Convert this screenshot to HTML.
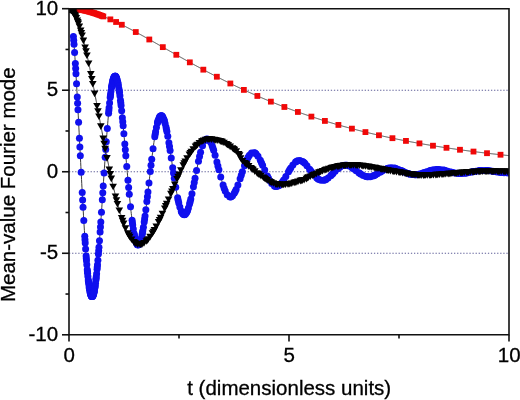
<!DOCTYPE html>
<html><head><meta charset="utf-8"><title>Mean-value Fourier mode</title>
<style>
html,body{margin:0;padding:0;background:#fff;}
body{width:520px;height:400px;overflow:hidden;}
svg{display:block;}
text{font-family:"Liberation Sans",Arial,sans-serif;font-size:20.5px;fill:#000;stroke:#000;stroke-width:0.3px;}
</style></head><body>
<svg width="520" height="400" viewBox="0 0 520 400">
<rect width="520" height="400" fill="#fff"/>
<defs><clipPath id="c"><rect x="69.0" y="8.7" width="440.0" height="326.1"/></clipPath></defs>
<g clip-path="url(#c)">
<line x1="69.0" y1="90.23" x2="509.0" y2="90.23" stroke="#5e5e98" stroke-width="1.1" stroke-dasharray="1.3 1.78"/>
<line x1="69.0" y1="171.75" x2="509.0" y2="171.75" stroke="#5e5e98" stroke-width="1.1" stroke-dasharray="1.3 1.78"/>
<line x1="69.0" y1="253.28" x2="509.0" y2="253.28" stroke="#5e5e98" stroke-width="1.1" stroke-dasharray="1.3 1.78"/>
<polyline points="69,8.7 69.44,8.7 69.88,8.71 70.32,8.71 70.76,8.73 71.2,8.74 71.64,8.76 72.08,8.78 72.52,8.8 72.96,8.83 73.4,8.86 73.84,8.89 74.28,8.93 74.72,8.96 75.16,9.01 75.6,9.05 76.04,9.1 76.48,9.15 76.92,9.2 77.36,9.25 77.8,9.31 78.24,9.37 78.68,9.44 79.12,9.5 79.56,9.57 80,9.64 80.44,9.71 80.88,9.79 81.32,9.87 81.76,9.95 82.2,10.03 82.64,10.12 83.08,10.21 83.52,10.3 83.96,10.39 84.4,10.49 84.84,10.58 85.28,10.68 85.72,10.78 86.16,10.89 86.6,10.99 87.04,11.1 87.48,11.21 87.92,11.33 88.36,11.44 88.8,11.56 89.24,11.68 89.68,11.8 90.12,11.92 90.56,12.05 91,12.17 91.44,12.3 91.88,12.43 92.32,12.56 92.76,12.7 93.2,12.83 93.64,12.97 94.08,13.11 94.52,13.25 94.96,13.4 95.4,13.54 95.84,13.69 96.28,13.84 96.72,13.99 97.16,14.14 97.6,14.29 98.04,14.45 98.48,14.61 98.92,14.76 99.36,14.92 99.8,15.09 100.24,15.25 100.68,15.41 101.12,15.58 101.56,15.75 102,15.91 102.44,16.09 102.88,16.26 103.32,16.43 103.76,16.6 104.2,16.78 104.64,16.96 105.08,17.14 105.52,17.32 105.96,17.5 106.4,17.68 106.84,17.86 107.28,18.05 107.72,18.23 108.16,18.42 108.6,18.61 109.04,18.8 109.48,18.99 109.92,19.18 110.36,19.38 110.8,19.57 111.24,19.77 111.68,19.96 112.12,20.16 112.56,20.36 113,20.56 113.44,20.76 113.88,20.96 114.32,21.17 114.76,21.37 115.2,21.58 115.64,21.78 116.08,21.99 116.52,22.2 116.96,22.4 117.4,22.61 117.84,22.82 118.28,23.04 118.72,23.25 119.16,23.46 119.6,23.68 120.04,23.89 120.48,24.11 120.92,24.32 121.36,24.54 121.8,24.76 122.24,24.98 122.68,25.2 123.12,25.42 123.56,25.64 124,25.86 124.44,26.08 124.88,26.3 125.32,26.53 125.76,26.75 126.2,26.98 126.64,27.2 127.08,27.43 127.52,27.66 127.96,27.89 128.4,28.11 128.84,28.34 129.28,28.57 129.72,28.8 130.16,29.03 130.6,29.27 131.04,29.5 131.48,29.73 131.92,29.96 132.36,30.2 132.8,30.43 133.24,30.66 133.68,30.9 134.12,31.14 134.56,31.37 135,31.61 135.44,31.84 135.88,32.08 136.32,32.32 136.76,32.56 137.2,32.8 137.64,33.04 138.08,33.28 138.52,33.51 138.96,33.76 139.4,34 139.84,34.24 140.28,34.48 140.72,34.72 141.16,34.96 141.6,35.2 142.04,35.45 142.48,35.69 142.92,35.93 143.36,36.18 143.8,36.42 144.24,36.66 144.68,36.91 145.12,37.15 145.56,37.4 146,37.64 146.44,37.89 146.88,38.14 147.32,38.38 147.76,38.63 148.2,38.87 148.64,39.12 149.08,39.37 149.52,39.61 149.96,39.86 150.4,40.11 150.84,40.36 151.28,40.6 151.72,40.85 152.16,41.1 152.6,41.35 153.04,41.6 153.48,41.84 153.92,42.09 154.36,42.34 154.8,42.59 155.24,42.84 155.68,43.09 156.12,43.34 156.56,43.59 157,43.84 157.44,44.09 157.88,44.34 158.32,44.59 158.76,44.84 159.2,45.09 159.64,45.33 160.08,45.58 160.52,45.83 160.96,46.08 161.4,46.33 161.84,46.58 162.28,46.83 162.72,47.08 163.16,47.33 163.6,47.58 164.04,47.83 164.48,48.08 164.92,48.33 165.36,48.58 165.8,48.83 166.24,49.08 166.68,49.33 167.12,49.58 167.56,49.83 168,50.08 168.44,50.33 168.88,50.58 169.32,50.83 169.76,51.08 170.2,51.33 170.64,51.58 171.08,51.83 171.52,52.08 171.96,52.33 172.4,52.58 172.84,52.83 173.28,53.08 173.72,53.33 174.16,53.58 174.6,53.82 175.04,54.07 175.48,54.32 175.92,54.57 176.36,54.82 176.8,55.07 177.24,55.31 177.68,55.56 178.12,55.81 178.56,56.06 179,56.3 179.44,56.55 179.88,56.8 180.32,57.05 180.76,57.29 181.2,57.54 181.64,57.79 182.08,58.03 182.52,58.28 182.96,58.52 183.4,58.77 183.84,59.02 184.28,59.26 184.72,59.51 185.16,59.75 185.6,60 186.04,60.24 186.48,60.49 186.92,60.73 187.36,60.97 187.8,61.22 188.24,61.46 188.68,61.7 189.12,61.95 189.56,62.19 190,62.43 190.44,62.68 190.88,62.92 191.32,63.16 191.76,63.4 192.2,63.64 192.64,63.89 193.08,64.13 193.52,64.37 193.96,64.61 194.4,64.85 194.84,65.09 195.28,65.33 195.72,65.57 196.16,65.81 196.6,66.05 197.04,66.29 197.48,66.53 197.92,66.76 198.36,67 198.8,67.24 199.24,67.48 199.68,67.71 200.12,67.95 200.56,68.19 201,68.42 201.44,68.66 201.88,68.9 202.32,69.13 202.76,69.37 203.2,69.6 203.64,69.84 204.08,70.07 204.52,70.31 204.96,70.54 205.4,70.77 205.84,71.01 206.28,71.24 206.72,71.47 207.16,71.71 207.6,71.94 208.04,72.17 208.48,72.4 208.92,72.63 209.36,72.86 209.8,73.09 210.24,73.32 210.68,73.55 211.12,73.78 211.56,74.01 212,74.24 212.44,74.47 212.88,74.7 213.32,74.93 213.76,75.15 214.2,75.38 214.64,75.61 215.08,75.84 215.52,76.06 215.96,76.29 216.4,76.51 216.84,76.74 217.28,76.96 217.72,77.19 218.16,77.41 218.6,77.64 219.04,77.86 219.48,78.08 219.92,78.31 220.36,78.53 220.8,78.75 221.24,78.97 221.68,79.2 222.12,79.42 222.56,79.64 223,79.86 223.44,80.08 223.88,80.3 224.32,80.52 224.76,80.74 225.2,80.96 225.64,81.17 226.08,81.39 226.52,81.61 226.96,81.83 227.4,82.05 227.84,82.26 228.28,82.48 228.72,82.69 229.16,82.91 229.6,83.12 230.04,83.34 230.48,83.55 230.92,83.77 231.36,83.98 231.8,84.2 232.24,84.41 232.68,84.62 233.12,84.83 233.56,85.05 234,85.26 234.44,85.47 234.88,85.68 235.32,85.89 235.76,86.1 236.2,86.31 236.64,86.52 237.08,86.73 237.52,86.94 237.96,87.14 238.4,87.35 238.84,87.56 239.28,87.77 239.72,87.97 240.16,88.18 240.6,88.39 241.04,88.59 241.48,88.8 241.92,89 242.36,89.21 242.8,89.41 243.24,89.61 243.68,89.82 244.12,90.02 244.56,90.22 245,90.43 245.44,90.63 245.88,90.83 246.32,91.03 246.76,91.23 247.2,91.43 247.64,91.63 248.08,91.83 248.52,92.03 248.96,92.23 249.4,92.43 249.84,92.62 250.28,92.82 250.72,93.02 251.16,93.22 251.6,93.41 252.04,93.61 252.48,93.8 252.92,94 253.36,94.19 253.8,94.39 254.24,94.58 254.68,94.78 255.12,94.97 255.56,95.16 256,95.36 256.44,95.55 256.88,95.74 257.32,95.93 257.76,96.12 258.2,96.31 258.64,96.5 259.08,96.69 259.52,96.88 259.96,97.07 260.4,97.26 260.84,97.45 261.28,97.64 261.72,97.83 262.16,98.01 262.6,98.2 263.04,98.39 263.48,98.57 263.92,98.76 264.36,98.94 264.8,99.13 265.24,99.31 265.68,99.5 266.12,99.68 266.56,99.87 267,100.05 267.44,100.23 267.88,100.41 268.32,100.6 268.76,100.78 269.2,100.96 269.64,101.14 270.08,101.32 270.52,101.5 270.96,101.68 271.4,101.86 271.84,102.04 272.28,102.22 272.72,102.39 273.16,102.57 273.6,102.75 274.04,102.93 274.48,103.1 274.92,103.28 275.36,103.45 275.8,103.63 276.24,103.81 276.68,103.98 277.12,104.15 277.56,104.33 278,104.5 278.44,104.67 278.88,104.85 279.32,105.02 279.76,105.19 280.2,105.36 280.64,105.54 281.08,105.71 281.52,105.88 281.96,106.05 282.4,106.22 282.84,106.39 283.28,106.56 283.72,106.72 284.16,106.89 284.6,107.06 285.04,107.23 285.48,107.4 285.92,107.56 286.36,107.73 286.8,107.89 287.24,108.06 287.68,108.23 288.12,108.39 288.56,108.56 289,108.72 289.44,108.88 289.88,109.05 290.32,109.21 290.76,109.37 291.2,109.54 291.64,109.7 292.08,109.86 292.52,110.02 292.96,110.18 293.4,110.34 293.84,110.5 294.28,110.66 294.72,110.82 295.16,110.98 295.6,111.14 296.04,111.3 296.48,111.46 296.92,111.61 297.36,111.77 297.8,111.93 298.24,112.08 298.68,112.24 299.12,112.4 299.56,112.55 300,112.71 300.44,112.86 300.88,113.02 301.32,113.17 301.76,113.32 302.2,113.48 302.64,113.63 303.08,113.78 303.52,113.94 303.96,114.09 304.4,114.24 304.84,114.39 305.28,114.54 305.72,114.69 306.16,114.84 306.6,114.99 307.04,115.14 307.48,115.29 307.92,115.44 308.36,115.59 308.8,115.74 309.24,115.88 309.68,116.03 310.12,116.18 310.56,116.32 311,116.47 311.44,116.62 311.88,116.76 312.32,116.91 312.76,117.05 313.2,117.2 313.64,117.34 314.08,117.49 314.52,117.63 314.96,117.77 315.4,117.92 315.84,118.06 316.28,118.2 316.72,118.34 317.16,118.48 317.6,118.63 318.04,118.77 318.48,118.91 318.92,119.05 319.36,119.19 319.8,119.33 320.24,119.47 320.68,119.6 321.12,119.74 321.56,119.88 322,120.02 322.44,120.16 322.88,120.29 323.32,120.43 323.76,120.57 324.2,120.7 324.64,120.84 325.08,120.97 325.52,121.11 325.96,121.24 326.4,121.38 326.84,121.51 327.28,121.65 327.72,121.78 328.16,121.91 328.6,122.05 329.04,122.18 329.48,122.31 329.92,122.44 330.36,122.58 330.8,122.71 331.24,122.84 331.68,122.97 332.12,123.1 332.56,123.23 333,123.36 333.44,123.49 333.88,123.62 334.32,123.75 334.76,123.87 335.2,124 335.64,124.13 336.08,124.26 336.52,124.38 336.96,124.51 337.4,124.64 337.84,124.76 338.28,124.89 338.72,125.02 339.16,125.14 339.6,125.27 340.04,125.39 340.48,125.52 340.92,125.64 341.36,125.76 341.8,125.89 342.24,126.01 342.68,126.13 343.12,126.25 343.56,126.38 344,126.5 344.44,126.62 344.88,126.74 345.32,126.86 345.76,126.98 346.2,127.1 346.64,127.22 347.08,127.34 347.52,127.46 347.96,127.58 348.4,127.7 348.84,127.82 349.28,127.94 349.72,128.06 350.16,128.17 350.6,128.29 351.04,128.41 351.48,128.53 351.92,128.64 352.36,128.76 352.8,128.87 353.24,128.99 353.68,129.1 354.12,129.22 354.56,129.33 355,129.45 355.44,129.56 355.88,129.68 356.32,129.79 356.76,129.9 357.2,130.02 357.64,130.13 358.08,130.24 358.52,130.35 358.96,130.47 359.4,130.58 359.84,130.69 360.28,130.8 360.72,130.91 361.16,131.02 361.6,131.13 362.04,131.24 362.48,131.35 362.92,131.46 363.36,131.57 363.8,131.68 364.24,131.79 364.68,131.9 365.12,132 365.56,132.11 366,132.22 366.44,132.33 366.88,132.43 367.32,132.54 367.76,132.65 368.2,132.75 368.64,132.86 369.08,132.96 369.52,133.07 369.96,133.17 370.4,133.28 370.84,133.38 371.28,133.49 371.72,133.59 372.16,133.69 372.6,133.8 373.04,133.9 373.48,134 373.92,134.11 374.36,134.21 374.8,134.31 375.24,134.41 375.68,134.51 376.12,134.61 376.56,134.72 377,134.82 377.44,134.92 377.88,135.02 378.32,135.12 378.76,135.22 379.2,135.32 379.64,135.42 380.08,135.51 380.52,135.61 380.96,135.71 381.4,135.81 381.84,135.91 382.28,136.01 382.72,136.1 383.16,136.2 383.6,136.3 384.04,136.39 384.48,136.49 384.92,136.59 385.36,136.68 385.8,136.78 386.24,136.87 386.68,136.97 387.12,137.06 387.56,137.16 388,137.25 388.44,137.35 388.88,137.44 389.32,137.53 389.76,137.63 390.2,137.72 390.64,137.81 391.08,137.91 391.52,138 391.96,138.09 392.4,138.18 392.84,138.27 393.28,138.37 393.72,138.46 394.16,138.55 394.6,138.64 395.04,138.73 395.48,138.82 395.92,138.91 396.36,139 396.8,139.09 397.24,139.18 397.68,139.27 398.12,139.36 398.56,139.44 399,139.53 399.44,139.62 399.88,139.71 400.32,139.8 400.76,139.88 401.2,139.97 401.64,140.06 402.08,140.14 402.52,140.23 402.96,140.32 403.4,140.4 403.84,140.49 404.28,140.58 404.72,140.66 405.16,140.75 405.6,140.83 406.04,140.92 406.48,141 406.92,141.08 407.36,141.17 407.8,141.25 408.24,141.34 408.68,141.42 409.12,141.5 409.56,141.59 410,141.67 410.44,141.75 410.88,141.83 411.32,141.92 411.76,142 412.2,142.08 412.64,142.16 413.08,142.24 413.52,142.32 413.96,142.4 414.4,142.48 414.84,142.56 415.28,142.64 415.72,142.72 416.16,142.8 416.6,142.88 417.04,142.96 417.48,143.04 417.92,143.12 418.36,143.2 418.8,143.28 419.24,143.36 419.68,143.43 420.12,143.51 420.56,143.59 421,143.67 421.44,143.74 421.88,143.82 422.32,143.9 422.76,143.97 423.2,144.05 423.64,144.13 424.08,144.2 424.52,144.28 424.96,144.35 425.4,144.43 425.84,144.51 426.28,144.58 426.72,144.66 427.16,144.73 427.6,144.8 428.04,144.88 428.48,144.95 428.92,145.03 429.36,145.1 429.8,145.17 430.24,145.25 430.68,145.32 431.12,145.39 431.56,145.46 432,145.54 432.44,145.61 432.88,145.68 433.32,145.75 433.76,145.82 434.2,145.9 434.64,145.97 435.08,146.04 435.52,146.11 435.96,146.18 436.4,146.25 436.84,146.32 437.28,146.39 437.72,146.46 438.16,146.53 438.6,146.6 439.04,146.67 439.48,146.74 439.92,146.81 440.36,146.88 440.8,146.95 441.24,147.01 441.68,147.08 442.12,147.15 442.56,147.22 443,147.29 443.44,147.35 443.88,147.42 444.32,147.49 444.76,147.55 445.2,147.62 445.64,147.69 446.08,147.75 446.52,147.82 446.96,147.89 447.4,147.95 447.84,148.02 448.28,148.08 448.72,148.15 449.16,148.21 449.6,148.28 450.04,148.34 450.48,148.41 450.92,148.47 451.36,148.54 451.8,148.6 452.24,148.67 452.68,148.73 453.12,148.79 453.56,148.86 454,148.92 454.44,148.98 454.88,149.05 455.32,149.11 455.76,149.17 456.2,149.23 456.64,149.3 457.08,149.36 457.52,149.42 457.96,149.48 458.4,149.54 458.84,149.61 459.28,149.67 459.72,149.73 460.16,149.79 460.6,149.85 461.04,149.91 461.48,149.97 461.92,150.03 462.36,150.09 462.8,150.15 463.24,150.21 463.68,150.27 464.12,150.33 464.56,150.39 465,150.45 465.44,150.51 465.88,150.57 466.32,150.62 466.76,150.68 467.2,150.74 467.64,150.8 468.08,150.86 468.52,150.92 468.96,150.97 469.4,151.03 469.84,151.09 470.28,151.15 470.72,151.2 471.16,151.26 471.6,151.32 472.04,151.37 472.48,151.43 472.92,151.49 473.36,151.54 473.8,151.6 474.24,151.65 474.68,151.71 475.12,151.76 475.56,151.82 476,151.88 476.44,151.93 476.88,151.99 477.32,152.04 477.76,152.09 478.2,152.15 478.64,152.2 479.08,152.26 479.52,152.31 479.96,152.37 480.4,152.42 480.84,152.47 481.28,152.53 481.72,152.58 482.16,152.63 482.6,152.69 483.04,152.74 483.48,152.79 483.92,152.84 484.36,152.9 484.8,152.95 485.24,153 485.68,153.05 486.12,153.11 486.56,153.16 487,153.21 487.44,153.26 487.88,153.31 488.32,153.36 488.76,153.41 489.2,153.46 489.64,153.52 490.08,153.57 490.52,153.62 490.96,153.67 491.4,153.72 491.84,153.77 492.28,153.82 492.72,153.87 493.16,153.92 493.6,153.97 494.04,154.02 494.48,154.06 494.92,154.11 495.36,154.16 495.8,154.21 496.24,154.26 496.68,154.31 497.12,154.36 497.56,154.41 498,154.45 498.44,154.5 498.88,154.55 499.32,154.6 499.76,154.65 500.2,154.69 500.64,154.74 501.08,154.79 501.52,154.83 501.96,154.88 502.4,154.93 502.84,154.98 503.28,155.02 503.72,155.07 504.16,155.11 504.6,155.16 505.04,155.21 505.48,155.25 505.92,155.3 506.36,155.34 506.8,155.39 507.24,155.44 507.68,155.48 508.12,155.53 508.56,155.57 509,155.62" fill="none" stroke="#444" stroke-width="1"/>
<g fill="#f00808"><rect x="66.1" y="5.8" width="5.8" height="5.8"/><rect x="67.42" y="5.81" width="5.8" height="5.8"/><rect x="68.74" y="5.86" width="5.8" height="5.8"/><rect x="70.06" y="5.93" width="5.8" height="5.8"/><rect x="71.38" y="6.03" width="5.8" height="5.8"/><rect x="72.7" y="6.15" width="5.8" height="5.8"/><rect x="74.02" y="6.3" width="5.8" height="5.8"/><rect x="75.34" y="6.47" width="5.8" height="5.8"/><rect x="76.66" y="6.67" width="5.8" height="5.8"/><rect x="77.98" y="6.89" width="5.8" height="5.8"/><rect x="79.3" y="7.13" width="5.8" height="5.8"/><rect x="80.62" y="7.4" width="5.8" height="5.8"/><rect x="81.94" y="7.68" width="5.8" height="5.8"/><rect x="83.26" y="7.99" width="5.8" height="5.8"/><rect x="84.58" y="8.31" width="5.8" height="5.8"/><rect x="85.9" y="8.66" width="5.8" height="5.8"/><rect x="87.22" y="9.02" width="5.8" height="5.8"/><rect x="88.54" y="9.4" width="5.8" height="5.8"/><rect x="89.86" y="9.8" width="5.8" height="5.8"/><rect x="91.18" y="10.21" width="5.8" height="5.8"/><rect x="92.5" y="10.64" width="5.8" height="5.8"/><rect x="93.82" y="11.09" width="5.8" height="5.8"/><rect x="95.14" y="11.55" width="5.8" height="5.8"/><rect x="96.46" y="12.02" width="5.8" height="5.8"/><rect x="97.78" y="12.51" width="5.8" height="5.8"/><rect x="99.1" y="13.01" width="5.8" height="5.8"/><rect x="100.42" y="13.53" width="5.8" height="5.8"/><rect x="107.46" y="16.48" width="5.8" height="5.8"/><rect x="113.18" y="19.09" width="5.8" height="5.8"/><rect x="118.9" y="21.86" width="5.8" height="5.8"/><rect x="132.89" y="29.13" width="5.8" height="5.8"/><rect x="146.4" y="36.59" width="5.8" height="5.8"/><rect x="159.91" y="44.23" width="5.8" height="5.8"/><rect x="173.42" y="51.89" width="5.8" height="5.8"/><rect x="186.92" y="59.44" width="5.8" height="5.8"/><rect x="200.43" y="66.77" width="5.8" height="5.8"/><rect x="213.94" y="73.84" width="5.8" height="5.8"/><rect x="227.45" y="80.59" width="5.8" height="5.8"/><rect x="240.96" y="87" width="5.8" height="5.8"/><rect x="254.46" y="93.05" width="5.8" height="5.8"/><rect x="267.97" y="98.74" width="5.8" height="5.8"/><rect x="281.48" y="104.08" width="5.8" height="5.8"/><rect x="294.99" y="109.06" width="5.8" height="5.8"/><rect x="308.5" y="113.7" width="5.8" height="5.8"/><rect x="322" y="118.02" width="5.8" height="5.8"/><rect x="335.51" y="122.03" width="5.8" height="5.8"/><rect x="349.02" y="125.74" width="5.8" height="5.8"/><rect x="362.53" y="129.18" width="5.8" height="5.8"/><rect x="376.04" y="132.36" width="5.8" height="5.8"/><rect x="389.54" y="135.29" width="5.8" height="5.8"/><rect x="403.05" y="138" width="5.8" height="5.8"/><rect x="416.56" y="140.5" width="5.8" height="5.8"/><rect x="430.07" y="142.8" width="5.8" height="5.8"/><rect x="443.58" y="144.91" width="5.8" height="5.8"/><rect x="457.08" y="146.86" width="5.8" height="5.8"/><rect x="470.59" y="148.66" width="5.8" height="5.8"/><rect x="484.1" y="150.31" width="5.8" height="5.8"/><rect x="497.61" y="151.83" width="5.8" height="5.8"/></g>
<polyline points="73.4,36.43 73.62,39.13 73.84,41.94 74.06,44.84 74.28,47.85 74.5,50.95 74.72,54.15 74.94,57.44 75.16,60.81 75.38,64.27 75.6,67.8 75.82,71.42 76.04,75.1 76.26,78.85 76.48,82.67 76.7,86.55 76.92,90.49 77.14,94.48 77.36,98.52 77.58,102.6 77.8,106.73 78.02,110.9 78.24,115.1 78.46,119.32 78.68,123.58 78.9,127.86 79.12,132.15 79.34,136.46 79.56,140.78 79.78,145.1 80,149.43 80.22,153.75 80.44,158.07 80.66,162.38 80.88,166.68 81.1,170.95 81.32,175.21 81.54,179.44 81.76,183.65 81.98,187.82 82.2,191.96 82.42,196.05 82.64,200.11 82.86,204.12 83.08,208.08 83.3,211.98 83.52,215.83 83.74,219.62 83.96,223.35 84.18,227.01 84.4,230.6 84.62,234.12 84.84,237.57 85.06,240.94 85.28,244.23 85.5,247.44 85.72,250.56 85.94,253.6 86.16,256.54 86.38,259.4 86.6,262.16 86.82,264.83 87.04,267.39 87.26,269.86 87.48,272.23 87.7,274.49 87.92,276.65 88.14,278.71 88.36,280.65 88.58,282.49 88.8,284.22 89.02,285.84 89.24,287.35 89.46,288.74 89.68,290.02 89.9,291.19 90.12,292.25 90.34,293.19 90.56,294.01 90.78,294.72 91,295.32 91.22,295.8 91.44,296.17 91.66,296.42 91.88,296.56 92.1,296.58 92.32,296.5 92.54,296.3 92.76,295.98 92.98,295.56 93.2,295.03 93.42,294.39 93.64,293.64 93.86,292.78 94.08,291.82 94.3,290.76 94.52,289.59 94.74,288.33 94.96,286.96 95.18,285.5 95.4,283.94 95.62,282.29 95.84,280.54 96.06,278.71 96.28,276.79 96.5,274.78 96.72,272.7 96.94,270.53 97.16,268.28 97.38,265.96 97.6,263.56 97.82,261.09 98.04,258.56 98.26,255.95 98.48,253.29 98.7,250.57 98.92,247.78 99.14,244.95 99.36,242.06 99.58,239.12 99.8,236.14 100.02,233.11 100.24,230.05 100.46,226.95 100.68,223.81 100.9,220.64 101.12,217.44 101.34,214.22 101.56,210.98 101.78,207.72 102,204.44 102.22,201.15 102.44,197.85 102.66,194.54 102.88,191.23 103.1,187.91 103.32,184.6 103.54,181.3 103.76,178 103.98,174.72 104.2,171.44 104.42,168.19 104.64,164.95 104.86,161.74 105.08,158.55 105.3,155.4 105.52,152.27 105.74,149.17 105.96,146.12 106.18,143.1 106.4,140.12 106.62,137.18 106.84,134.29 107.06,131.45 107.28,128.67 107.5,125.93 107.72,123.25 107.94,120.63 108.16,118.06 108.38,115.56 108.6,113.12 108.82,110.75 109.04,108.44 109.26,106.21 109.48,104.04 109.7,101.95 109.92,99.93 110.14,97.98 110.36,96.11 110.58,94.32 110.8,92.61 111.02,90.98 111.24,89.43 111.46,87.97 111.68,86.58 111.9,85.28 112.12,84.07 112.34,82.94 112.56,81.89 112.78,80.93 113,80.06 113.22,79.28 113.44,78.59 113.66,77.98 113.88,77.46 114.1,77.03 114.32,76.68 114.54,76.43 114.76,76.26 114.98,76.18 115.2,76.18 115.42,76.27 115.64,76.45 115.86,76.71 116.08,77.06 116.3,77.49 116.52,78.01 116.74,78.6 116.96,79.28 117.18,80.04 117.4,80.87 117.62,81.79 117.84,82.78 118.06,83.85 118.28,84.99 118.5,86.2 118.72,87.49 118.94,88.84 119.16,90.26 119.38,91.75 119.6,93.3 119.82,94.92 120.04,96.6 120.26,98.34 120.48,100.13 120.7,101.98 120.92,103.88 121.14,105.84 121.36,107.85 121.58,109.9 121.8,112 122.02,114.14 122.24,116.32 122.46,118.54 122.68,120.8 122.9,123.1 123.12,125.42 123.34,127.78 123.56,130.16 123.78,132.57 124,135 124.22,137.45 124.44,139.93 124.66,142.41 124.88,144.92 125.1,147.43 125.32,149.95 125.54,152.48 125.76,155.01 125.98,157.55 126.2,160.09 126.42,162.62 126.64,165.15 126.86,167.67 127.08,170.18 127.3,172.68 127.52,175.17 127.74,177.64 127.96,180.1 128.18,182.53 128.4,184.95 128.62,187.33 128.84,189.69 129.06,192.03 129.28,194.33 129.5,196.6 129.72,198.84 129.94,201.04 130.16,203.2 130.38,205.33 130.6,207.41 130.82,209.45 131.04,211.45 131.26,213.4 131.48,215.3 131.7,217.15 131.92,218.95 132.14,220.7 132.36,222.4 132.58,224.05 132.8,225.63 133.02,227.16 133.24,228.64 133.46,230.05 133.68,231.4 133.9,232.7 134.12,233.93 134.34,235.1 134.56,236.2 134.78,237.24 135,238.22 135.22,239.13 135.44,239.98 135.66,240.76 135.88,241.48 136.1,242.12 136.32,242.7 136.54,243.22 136.76,243.66 136.98,244.04 137.2,244.35 137.42,244.6 137.64,244.78 137.86,244.89 138.08,244.93 138.3,244.91 138.52,244.82 138.74,244.67 138.96,244.45 139.18,244.16 139.4,243.81 139.62,243.4 139.84,242.93 140.06,242.39 140.28,241.8 140.5,241.14 140.72,240.42 140.94,239.65 141.16,238.81 141.38,237.92 141.6,236.98 141.82,235.98 142.04,234.93 142.26,233.83 142.48,232.67 142.7,231.47 142.92,230.22 143.14,228.92 143.36,227.58 143.58,226.19 143.8,224.76 144.02,223.3 144.24,221.79 144.46,220.24 144.68,218.66 144.9,217.04 145.12,215.39 145.34,213.71 145.56,212.01 145.78,210.27 146,208.51 146.22,206.72 146.44,204.91 146.66,203.08 146.88,201.23 147.1,199.36 147.32,197.48 147.54,195.58 147.76,193.68 147.98,191.76 148.2,189.83 148.42,187.9 148.64,185.96 148.86,184.02 149.08,182.08 149.3,180.14 149.52,178.2 149.74,176.26 149.96,174.33 150.18,172.41 150.4,170.5 150.62,168.6 150.84,166.71 151.06,164.83 151.28,162.97 151.5,161.13 151.72,159.31 151.94,157.51 152.16,155.73 152.38,153.97 152.6,152.24 152.82,150.53 153.04,148.86 153.26,147.21 153.48,145.59 153.7,144 153.92,142.45 154.14,140.93 154.36,139.45 154.58,138.01 154.8,136.6 155.02,135.23 155.24,133.9 155.46,132.61 155.68,131.37 155.9,130.16 156.12,129 156.34,127.89 156.56,126.82 156.78,125.79 157,124.82 157.22,123.89 157.44,123.01 157.66,122.17 157.88,121.39 158.1,120.66 158.32,119.97 158.54,119.34 158.76,118.75 158.98,118.22 159.2,117.74 159.42,117.31 159.64,116.93 159.86,116.6 160.08,116.33 160.3,116.1 160.52,115.93 160.74,115.81 160.96,115.74 161.18,115.72 161.4,115.75 161.62,115.83 161.84,115.96 162.06,116.15 162.28,116.38 162.5,116.66 162.72,116.99 162.94,117.36 163.16,117.79 163.38,118.26 163.6,118.77 163.82,119.33 164.04,119.94 164.26,120.59 164.48,121.28 164.7,122.02 164.92,122.79 165.14,123.61 165.36,124.47 165.58,125.36 165.8,126.29 166.02,127.26 166.24,128.26 166.46,129.3 166.68,130.37 166.9,131.47 167.12,132.61 167.34,133.77 167.56,134.96 167.78,136.18 168,137.42 168.22,138.69 168.44,139.98 168.66,141.3 168.88,142.63 169.1,143.99 169.32,145.36 169.54,146.75 169.76,148.16 169.98,149.58 170.2,151.01 170.42,152.46 170.64,153.91 170.86,155.37 171.08,156.84 171.3,158.32 171.52,159.8 171.74,161.29 171.96,162.77 172.18,164.26 172.4,165.74 172.62,167.23 172.84,168.71 173.06,170.18 173.28,171.65 173.5,173.12 173.72,174.57 173.94,176.01 174.16,177.45 174.38,178.87 174.6,180.27 174.82,181.66 175.04,183.04 175.26,184.4 175.48,185.74 175.7,187.06 175.92,188.36 176.14,189.63 176.36,190.89 176.58,192.12 176.8,193.33 177.02,194.51 177.24,195.67 177.46,196.79 177.68,197.89 177.9,198.96 178.12,200 178.34,201.01 178.56,201.99 178.78,202.93 179,203.84 179.22,204.72 179.44,205.57 179.66,206.38 179.88,207.15 180.1,207.89 180.32,208.59 180.54,209.25 180.76,209.88 180.98,210.47 181.2,211.02 181.42,211.53 181.64,212.01 181.86,212.45 182.08,212.84 182.3,213.2 182.52,213.52 182.74,213.8 182.96,214.04 183.18,214.24 183.4,214.4 183.62,214.52 183.84,214.6 184.06,214.64 184.28,214.65 184.5,214.61 184.72,214.54 184.94,214.43 185.16,214.28 185.38,214.09 185.6,213.86 185.82,213.6 186.04,213.3 186.26,212.97 186.48,212.6 186.7,212.2 186.92,211.76 187.14,211.28 187.36,210.78 187.58,210.24 187.8,209.66 188.02,209.06 188.24,208.43 188.46,207.76 188.68,207.07 188.9,206.35 189.12,205.6 189.34,204.83 189.56,204.03 189.78,203.2 190,202.35 190.22,201.47 190.44,200.58 190.66,199.66 190.88,198.72 191.1,197.76 191.32,196.79 191.54,195.79 191.76,194.78 191.98,193.75 192.2,192.71 192.42,191.66 192.64,190.59 192.86,189.51 193.08,188.42 193.3,187.32 193.52,186.21 193.74,185.1 193.96,183.97 194.18,182.85 194.4,181.71 194.62,180.58 194.84,179.44 195.06,178.3 195.28,177.17 195.5,176.03 195.72,174.89 195.94,173.76 196.16,172.63 196.38,171.51 196.6,170.39 196.82,169.28 197.04,168.18 197.26,167.08 197.48,166 197.7,164.93 197.92,163.86 198.14,162.81 198.36,161.78 198.58,160.76 198.8,159.75 199.02,158.76 199.24,157.79 199.46,156.83 199.68,155.89 199.9,154.97 200.12,154.07 200.34,153.2 200.56,152.34 200.78,151.5 201,150.69 201.22,149.9 201.44,149.14 201.66,148.39 201.88,147.68 202.1,146.99 202.32,146.32 202.54,145.68 202.76,145.07 202.98,144.49 203.2,143.93 203.42,143.4 203.64,142.9 203.86,142.43 204.08,141.98 204.3,141.57 204.52,141.18 204.74,140.83 204.96,140.5 205.18,140.21 205.4,139.94 205.62,139.71 205.84,139.5 206.06,139.33 206.28,139.18 206.5,139.07 206.72,138.98 206.94,138.93 207.16,138.91 207.38,138.91 207.6,138.95 207.82,139.01 208.04,139.1 208.26,139.23 208.48,139.38 208.7,139.56 208.92,139.77 209.14,140 209.36,140.27 209.58,140.56 209.8,140.87 210.02,141.22 210.24,141.59 210.46,141.98 210.68,142.4 210.9,142.85 211.12,143.32 211.34,143.81 211.56,144.32 211.78,144.86 212,145.42 212.22,146 212.44,146.6 212.66,147.21 212.88,147.85 213.1,148.51 213.32,149.18 213.54,149.87 213.76,150.58 213.98,151.3 214.2,152.04 214.42,152.79 214.64,153.56 214.86,154.34 215.08,155.13 215.3,155.93 215.52,156.74 215.74,157.56 215.96,158.39 216.18,159.22 216.4,160.07 216.62,160.92 216.84,161.77 217.06,162.63 217.28,163.5 217.5,164.36 217.72,165.23 217.94,166.1 218.16,166.98 218.38,167.85 218.6,168.72 218.82,169.59 219.04,170.45 219.26,171.32 219.48,172.17 219.7,173.03 219.92,173.88 220.14,174.72 220.36,175.56 220.58,176.38 220.8,177.2 221.02,178.01 221.24,178.81 221.46,179.61 221.68,180.38 221.9,181.15 222.12,181.91 222.34,182.65 222.56,183.38 222.78,184.09 223,184.79 223.22,185.47 223.44,186.14 223.66,186.79 223.88,187.43 224.1,188.05 224.32,188.64 224.54,189.23 224.76,189.79 224.98,190.33 225.2,190.85 225.42,191.36 225.64,191.84 225.86,192.3 226.08,192.75 226.3,193.17 226.52,193.57 226.74,193.94 226.96,194.3 227.18,194.63 227.4,194.94 227.62,195.23 227.84,195.5 228.06,195.74 228.28,195.96 228.5,196.16 228.72,196.33 228.94,196.48 229.16,196.61 229.38,196.71 229.6,196.79 229.82,196.85 230.04,196.89 230.26,196.9 230.48,196.89 230.7,196.86 230.92,196.8 231.14,196.72 231.36,196.62 231.58,196.5 231.8,196.35 232.02,196.19 232.24,196 232.46,195.79 232.68,195.57 232.9,195.32 233.12,195.05 233.34,194.76 233.56,194.45 233.78,194.13 234,193.78 234.22,193.42 234.44,193.04 234.66,192.64 234.88,192.22 235.1,191.79 235.32,191.34 235.54,190.88 235.76,190.4 235.98,189.91 236.2,189.4 236.42,188.88 236.64,188.35 236.86,187.8 237.08,187.25 237.3,186.68 237.52,186.1 237.74,185.51 237.96,184.91 238.18,184.31 238.4,183.69 238.62,183.07 238.84,182.44 239.06,181.8 239.28,181.16 239.5,180.51 239.72,179.86 239.94,179.21 240.16,178.55 240.38,177.88 240.6,177.22 240.82,176.55 241.04,175.89 241.26,175.22 241.48,174.55 241.7,173.89 241.92,173.22 242.14,172.56 242.36,171.9 242.58,171.24 242.8,170.59 243.02,169.94 243.24,169.3 243.46,168.66 243.68,168.03 243.9,167.4 244.12,166.78 244.34,166.17 244.56,165.57 244.78,164.97 245,164.39 245.22,163.81 245.44,163.25 245.66,162.69 245.88,162.15 246.1,161.62 246.32,161.1 246.54,160.59 246.76,160.09 246.98,159.61 247.2,159.14 247.42,158.69 247.64,158.25 247.86,157.82 248.08,157.41 248.3,157.01 248.52,156.63 248.74,156.27 248.96,155.92 249.18,155.58 249.4,155.26 249.62,154.96 249.84,154.68 250.06,154.41 250.28,154.16 250.5,153.93 250.72,153.71 250.94,153.51 251.16,153.33 251.38,153.17 251.6,153.02 251.82,152.9 252.04,152.79 252.26,152.69 252.48,152.62 252.7,152.56 252.92,152.52 253.14,152.5 253.36,152.5 253.58,152.51 253.8,152.54 254.02,152.59 254.24,152.65 254.46,152.73 254.68,152.83 254.9,152.95 255.12,153.08 255.34,153.22 255.56,153.39 255.78,153.57 256,153.76 256.22,153.97 256.44,154.2 256.66,154.44 256.88,154.69 257.1,154.96 257.32,155.24 257.54,155.54 257.76,155.85 257.98,156.17 258.2,156.5 258.42,156.85 258.64,157.21 258.86,157.58 259.08,157.96 259.3,158.35 259.52,158.75 259.74,159.16 259.96,159.58 260.18,160.01 260.4,160.44 260.62,160.89 260.84,161.34 261.06,161.8 261.28,162.27 261.5,162.74 261.72,163.22 261.94,163.7 262.16,164.19 262.38,164.68 262.6,165.18 262.82,165.68 263.04,166.18 263.26,166.69 263.48,167.2 263.7,167.71 263.92,168.22 264.14,168.73 264.36,169.24 264.58,169.75 264.8,170.26 265.02,170.77 265.24,171.27 265.46,171.78 265.68,172.28 265.9,172.78 266.12,173.27 266.34,173.77 266.56,174.25 266.78,174.74 267,175.21 267.22,175.69 267.44,176.15 267.66,176.61 267.88,177.06 268.1,177.51 268.32,177.95 268.54,178.38 268.76,178.8 268.98,179.22 269.2,179.62 269.42,180.02 269.64,180.4 269.86,180.78 270.08,181.14 270.3,181.5 270.52,181.85 270.74,182.18 270.96,182.5 271.18,182.82 271.4,183.12 271.62,183.41 271.84,183.68 272.06,183.95 272.28,184.2 272.5,184.44 272.72,184.66 272.94,184.88 273.16,185.08 273.38,185.27 273.6,185.44 273.82,185.6 274.04,185.75 274.26,185.89 274.48,186.01 274.7,186.12 274.92,186.21 275.14,186.29 275.36,186.36 275.58,186.41 275.8,186.45 276.02,186.48 276.24,186.49 276.46,186.49 276.68,186.48 276.9,186.45 277.12,186.41 277.34,186.36 277.56,186.29 277.78,186.21 278,186.12 278.22,186.02 278.44,185.9 278.66,185.77 278.88,185.63 279.1,185.48 279.32,185.31 279.54,185.14 279.76,184.95 279.98,184.75 280.2,184.55 280.42,184.33 280.64,184.1 280.86,183.86 281.08,183.61 281.3,183.35 281.52,183.08 281.74,182.81 281.96,182.52 282.18,182.23 282.4,181.93 282.62,181.62 282.84,181.3 283.06,180.98 283.28,180.65 283.5,180.31 283.72,179.97 283.94,179.62 284.16,179.27 284.38,178.91 284.6,178.55 284.82,178.18 285.04,177.81 285.26,177.43 285.48,177.05 285.7,176.67 285.92,176.29 286.14,175.9 286.36,175.52 286.58,175.13 286.8,174.74 287.02,174.35 287.24,173.96 287.46,173.56 287.68,173.17 287.9,172.78 288.12,172.39 288.34,172.01 288.56,171.62 288.78,171.24 289,170.86 289.22,170.48 289.44,170.1 289.66,169.73 289.88,169.36 290.1,169 290.32,168.64 290.54,168.28 290.76,167.93 290.98,167.58 291.2,167.25 291.42,166.91 291.64,166.58 291.86,166.26 292.08,165.95 292.3,165.64 292.52,165.34 292.74,165.04 292.96,164.76 293.18,164.48 293.4,164.21 293.62,163.95 293.84,163.69 294.06,163.45 294.28,163.21 294.5,162.98 294.72,162.77 294.94,162.56 295.16,162.36 295.38,162.17 295.6,161.99 295.82,161.82 296.04,161.65 296.26,161.5 296.48,161.36 296.7,161.23 296.92,161.11 297.14,161 297.36,160.9 297.58,160.81 297.8,160.73 298.02,160.66 298.24,160.6 298.46,160.55 298.68,160.51 298.9,160.49 299.12,160.47 299.34,160.46 299.56,160.47 299.78,160.48 300,160.5 300.22,160.54 300.44,160.58 300.66,160.63 300.88,160.7 301.1,160.77 301.32,160.85 301.54,160.94 301.76,161.04 301.98,161.15 302.2,161.27 302.42,161.4 302.64,161.54 302.86,161.68 303.08,161.84 303.3,162 303.52,162.17 303.74,162.35 303.96,162.53 304.18,162.72 304.4,162.92 304.62,163.13 304.84,163.34 305.06,163.56 305.28,163.79 305.5,164.02 305.72,164.26 305.94,164.51 306.16,164.75 306.38,165.01 306.6,165.27 306.82,165.53 307.04,165.8 307.26,166.07 307.48,166.35 307.7,166.62 307.92,166.91 308.14,167.19 308.36,167.48 308.58,167.77 308.8,168.06 309.02,168.36 309.24,168.65 309.46,168.95 309.68,169.25 309.9,169.55 310.12,169.85 310.34,170.15 310.56,170.44 310.78,170.74 311,171.04 311.22,171.34 311.44,171.64 311.66,171.93 311.88,172.22 312.1,172.52 312.32,172.81 312.54,173.09 312.76,173.38 312.98,173.66 313.2,173.94 313.42,174.21 313.64,174.48 313.86,174.75 314.08,175.01 314.3,175.27 314.52,175.53 314.74,175.78 314.96,176.02 315.18,176.26 315.4,176.49 315.62,176.72 315.84,176.95 316.06,177.16 316.28,177.38 316.5,177.58 316.72,177.78 316.94,177.97 317.16,178.16 317.38,178.34 317.6,178.51 317.82,178.67 318.04,178.83 318.26,178.98 318.48,179.13 318.7,179.26 318.92,179.39 319.14,179.51 319.36,179.63 319.58,179.73 319.8,179.83 320.02,179.92 320.24,180 320.46,180.08 320.68,180.14 320.9,180.2 321.12,180.25 321.34,180.3 321.56,180.33 321.78,180.36 322,180.38 322.22,180.39 322.44,180.39 322.66,180.39 322.88,180.38 323.1,180.36 323.32,180.33 323.54,180.29 323.76,180.25 323.98,180.2 324.2,180.14 324.42,180.08 324.64,180 324.86,179.92 325.08,179.84 325.3,179.74 325.52,179.64 325.74,179.54 325.96,179.43 326.18,179.31 326.4,179.18 326.62,179.05 326.84,178.91 327.06,178.77 327.28,178.62 327.5,178.46 327.72,178.3 327.94,178.14 328.16,177.97 328.38,177.79 328.6,177.62 328.82,177.43 329.04,177.24 329.26,177.05 329.48,176.86 329.7,176.66 329.92,176.45 330.14,176.25 330.36,176.04 330.58,175.83 330.8,175.61 331.02,175.4 331.24,175.18 331.46,174.96 331.68,174.73 331.9,174.51 332.12,174.28 332.34,174.06 332.56,173.83 332.78,173.6 333,173.37 333.22,173.14 333.44,172.91 333.66,172.69 333.88,172.46 334.1,172.23 334.32,172 334.54,171.77 334.76,171.55 334.98,171.32 335.2,171.1 335.42,170.88 335.64,170.66 335.86,170.44 336.08,170.23 336.3,170.02 336.52,169.81 336.74,169.6 336.96,169.4 337.18,169.2 337.4,169 337.62,168.81 337.84,168.62 338.06,168.43 338.28,168.25 338.5,168.07 338.72,167.89 338.94,167.72 339.16,167.56 339.38,167.4 339.6,167.24 339.82,167.09 340.04,166.95 340.26,166.81 340.48,166.67 340.7,166.54 340.92,166.41 341.14,166.29 341.36,166.18 341.58,166.07 341.8,165.97 342.02,165.87 342.24,165.78 342.46,165.7 342.68,165.62 342.9,165.54 343.12,165.48 343.34,165.41 343.56,165.36 343.78,165.31 344,165.27 344.22,165.23 344.44,165.2 344.66,165.17 344.88,165.15 345.1,165.14 345.32,165.13 345.54,165.13 345.76,165.14 345.98,165.15 346.2,165.17 346.42,165.19 346.64,165.22 346.86,165.25 347.08,165.29 347.3,165.34 347.52,165.39 347.74,165.45 347.96,165.51 348.18,165.58 348.4,165.65 348.62,165.73 348.84,165.81 349.06,165.9 349.28,165.99 349.5,166.09 349.72,166.19 349.94,166.3 350.16,166.41 350.38,166.52 350.6,166.64 350.82,166.77 351.04,166.89 351.26,167.03 351.48,167.16 351.7,167.3 351.92,167.44 352.14,167.58 352.36,167.73 352.58,167.88 352.8,168.04 353.02,168.19 353.24,168.35 353.46,168.51 353.68,168.67 353.9,168.84 354.12,169 354.34,169.17 354.56,169.34 354.78,169.51 355,169.69 355.22,169.86 355.44,170.03 355.66,170.21 355.88,170.38 356.1,170.56 356.32,170.73 356.54,170.91 356.76,171.08 356.98,171.26 357.2,171.43 357.42,171.61 357.64,171.78 357.86,171.95 358.08,172.12 358.3,172.29 358.52,172.46 358.74,172.63 358.96,172.8 359.18,172.96 359.4,173.12 359.62,173.28 359.84,173.44 360.06,173.59 360.28,173.75 360.5,173.9 360.72,174.05 360.94,174.19 361.16,174.33 361.38,174.47 361.6,174.61 361.82,174.74 362.04,174.87 362.26,174.99 362.48,175.12 362.7,175.23 362.92,175.35 363.14,175.46 363.36,175.57 363.58,175.67 363.8,175.77 364.02,175.86 364.24,175.95 364.46,176.04 364.68,176.12 364.9,176.2 365.12,176.27 365.34,176.34 365.56,176.4 365.78,176.46 366,176.52 366.22,176.57 366.44,176.61 366.66,176.65 366.88,176.69 367.1,176.72 367.32,176.75 367.54,176.77 367.76,176.79 367.98,176.8 368.2,176.81 368.42,176.82 368.64,176.82 368.86,176.81 369.08,176.8 369.3,176.79 369.52,176.77 369.74,176.74 369.96,176.72 370.18,176.68 370.4,176.65 370.62,176.61 370.84,176.56 371.06,176.51 371.28,176.46 371.5,176.4 371.72,176.34 371.94,176.28 372.16,176.21 372.38,176.14 372.6,176.06 372.82,175.98 373.04,175.9 373.26,175.82 373.48,175.73 373.7,175.63 373.92,175.54 374.14,175.44 374.36,175.34 374.58,175.23 374.8,175.13 375.02,175.02 375.24,174.91 375.46,174.79 375.68,174.68 375.9,174.56 376.12,174.44 376.34,174.32 376.56,174.2 376.78,174.07 377,173.94 377.22,173.82 377.44,173.69 377.66,173.56 377.88,173.43 378.1,173.29 378.32,173.16 378.54,173.03 378.76,172.89 378.98,172.76 379.2,172.63 379.42,172.49 379.64,172.36 379.86,172.22 380.08,172.09 380.3,171.96 380.52,171.82 380.74,171.69 380.96,171.56 381.18,171.43 381.4,171.3 381.62,171.17 381.84,171.04 382.06,170.91 382.28,170.79 382.5,170.67 382.72,170.54 382.94,170.42 383.16,170.3 383.38,170.19 383.6,170.07 383.82,169.96 384.04,169.85 384.26,169.74 384.48,169.64 384.7,169.53 384.92,169.43 385.14,169.34 385.36,169.24 385.58,169.15 385.8,169.06 386.02,168.97 386.24,168.89 386.46,168.81 386.68,168.73 386.9,168.65 387.12,168.58 387.34,168.51 387.56,168.45 387.78,168.39 388,168.33 388.22,168.27 388.44,168.22 388.66,168.17 388.88,168.13 389.1,168.09 389.32,168.05 389.54,168.02 389.76,167.99 389.98,167.96 390.2,167.94 390.42,167.92 390.64,167.9 390.86,167.89 391.08,167.88 391.3,167.87 391.52,167.87 391.74,167.87 391.96,167.88 392.18,167.89 392.4,167.9 392.62,167.91 392.84,167.93 393.06,167.95 393.28,167.98 393.5,168.01 393.72,168.04 393.94,168.08 394.16,168.11 394.38,168.15 394.6,168.2 394.82,168.25 395.04,168.3 395.26,168.35 395.48,168.41 395.7,168.46 395.92,168.53 396.14,168.59 396.36,168.66 396.58,168.73 396.8,168.8 397.02,168.87 397.24,168.95 397.46,169.02 397.68,169.1 397.9,169.19 398.12,169.27 398.34,169.36 398.56,169.44 398.78,169.53 399,169.62 399.22,169.72 399.44,169.81 399.66,169.9 399.88,170 400.1,170.1 400.32,170.2 400.54,170.29 400.76,170.39 400.98,170.5 401.2,170.6 401.42,170.7 401.64,170.8 401.86,170.9 402.08,171.01 402.3,171.11 402.52,171.21 402.74,171.31 402.96,171.42 403.18,171.52 403.4,171.62 403.62,171.72 403.84,171.82 404.06,171.93 404.28,172.03 404.5,172.12 404.72,172.22 404.94,172.32 405.16,172.42 405.38,172.51 405.6,172.61 405.82,172.7 406.04,172.79 406.26,172.88 406.48,172.97 406.7,173.06 406.92,173.14 407.14,173.23 407.36,173.31 407.58,173.39 407.8,173.47 408.02,173.54 408.24,173.62 408.46,173.69 408.68,173.76 408.9,173.83 409.12,173.9 409.34,173.96 409.56,174.02 409.78,174.08 410,174.14 410.22,174.19 410.44,174.24 410.66,174.29 410.88,174.34 411.1,174.38 411.32,174.42 411.54,174.46 411.76,174.5 411.98,174.53 412.2,174.56 412.42,174.59 412.64,174.61 412.86,174.64 413.08,174.66 413.3,174.67 413.52,174.69 413.74,174.7 413.96,174.71 414.18,174.72 414.4,174.72 414.62,174.72 414.84,174.72 415.06,174.71 415.28,174.71 415.5,174.7 415.72,174.68 415.94,174.67 416.16,174.65 416.38,174.63 416.6,174.61 416.82,174.58 417.04,174.56 417.26,174.53 417.48,174.49 417.7,174.46 417.92,174.42 418.14,174.38 418.36,174.34 418.58,174.3 418.8,174.25 419.02,174.2 419.24,174.16 419.46,174.1 419.68,174.05 419.9,174 420.12,173.94 420.34,173.88 420.56,173.82 420.78,173.76 421,173.69 421.22,173.63 421.44,173.56 421.66,173.5 421.88,173.43 422.1,173.36 422.32,173.29 422.54,173.22 422.76,173.14 422.98,173.07 423.2,172.99 423.42,172.92 423.64,172.84 423.86,172.77 424.08,172.69 424.3,172.61 424.52,172.53 424.74,172.46 424.96,172.38 425.18,172.3 425.4,172.22 425.62,172.14 425.84,172.06 426.06,171.98 426.28,171.9 426.5,171.83 426.72,171.75 426.94,171.67 427.16,171.59 427.38,171.52 427.6,171.44 427.82,171.37 428.04,171.29 428.26,171.22 428.48,171.15 428.7,171.07 428.92,171 429.14,170.93 429.36,170.86 429.58,170.8 429.8,170.73 430.02,170.66 430.24,170.6 430.46,170.54 430.68,170.48 430.9,170.42 431.12,170.36 431.34,170.3 431.56,170.25 431.78,170.19 432,170.14 432.22,170.09 432.44,170.04 432.66,170 432.88,169.95 433.1,169.91 433.32,169.87 433.54,169.83 433.76,169.79 433.98,169.76 434.2,169.73 434.42,169.7 434.64,169.67 434.86,169.64 435.08,169.61 435.3,169.59 435.52,169.57 435.74,169.55 435.96,169.53 436.18,169.52 436.4,169.51 436.62,169.5 436.84,169.49 437.06,169.48 437.28,169.48 437.5,169.48 437.72,169.48 437.94,169.48 438.16,169.48 438.38,169.49 438.6,169.5 438.82,169.51 439.04,169.52 439.26,169.53 439.48,169.55 439.7,169.57 439.92,169.59 440.14,169.61 440.36,169.63 440.58,169.66 440.8,169.68 441.02,169.71 441.24,169.74 441.46,169.78 441.68,169.81 441.9,169.84 442.12,169.88 442.34,169.92 442.56,169.96 442.78,170 443,170.04 443.22,170.09 443.44,170.13 443.66,170.18 443.88,170.23 444.1,170.27 444.32,170.32 444.54,170.38 444.76,170.43 444.98,170.48 445.2,170.53 445.42,170.59 445.64,170.64 445.86,170.7 446.08,170.76 446.3,170.81 446.52,170.87 446.74,170.93 446.96,170.99 447.18,171.05 447.4,171.11 447.62,171.17 447.84,171.23 448.06,171.29 448.28,171.35 448.5,171.41 448.72,171.47 448.94,171.53 449.16,171.59 449.38,171.65 449.6,171.71 449.82,171.77 450.04,171.83 450.26,171.89 450.48,171.94 450.7,172 450.92,172.06 451.14,172.12 451.36,172.17 451.58,172.23 451.8,172.28 452.02,172.34 452.24,172.39 452.46,172.44 452.68,172.49 452.9,172.54 453.12,172.59 453.34,172.64 453.56,172.69 453.78,172.74 454,172.78 454.22,172.83 454.44,172.87 454.66,172.91 454.88,172.95 455.1,172.99 455.32,173.03 455.54,173.07 455.76,173.1 455.98,173.13 456.2,173.17 456.42,173.2 456.64,173.23 456.86,173.25 457.08,173.28 457.3,173.31 457.52,173.33 457.74,173.35 457.96,173.37 458.18,173.39 458.4,173.41 458.62,173.42 458.84,173.44 459.06,173.45 459.28,173.46 459.5,173.47 459.72,173.48 459.94,173.48 460.16,173.49 460.38,173.49 460.6,173.49 460.82,173.49 461.04,173.49 461.26,173.48 461.48,173.48 461.7,173.47 461.92,173.47 462.14,173.46 462.36,173.44 462.58,173.43 462.8,173.42 463.02,173.4 463.24,173.39 463.46,173.37 463.68,173.35 463.9,173.33 464.12,173.3 464.34,173.28 464.56,173.26 464.78,173.23 465,173.2 465.22,173.17 465.44,173.14 465.66,173.11 465.88,173.08 466.1,173.05 466.32,173.01 466.54,172.98 466.76,172.94 466.98,172.91 467.2,172.87 467.42,172.83 467.64,172.79 467.86,172.75 468.08,172.71 468.3,172.67 468.52,172.63 468.74,172.59 468.96,172.54 469.18,172.5 469.4,172.45 469.62,172.41 469.84,172.37 470.06,172.32 470.28,172.28 470.5,172.23 470.72,172.18 470.94,172.14 471.16,172.09 471.38,172.05 471.6,172 471.82,171.95 472.04,171.91 472.26,171.86 472.48,171.81 472.7,171.77 472.92,171.72 473.14,171.68 473.36,171.63 473.58,171.59 473.8,171.54 474.02,171.5 474.24,171.46 474.46,171.41 474.68,171.37 474.9,171.33 475.12,171.29 475.34,171.25 475.56,171.21 475.78,171.17 476,171.13 476.22,171.09 476.44,171.06 476.66,171.02 476.88,170.98 477.1,170.95 477.32,170.92 477.54,170.88 477.76,170.85 477.98,170.82 478.2,170.79 478.42,170.76 478.64,170.74 478.86,170.71 479.08,170.68 479.3,170.66 479.52,170.64 479.74,170.61 479.96,170.59 480.18,170.57 480.4,170.55 480.62,170.54 480.84,170.52 481.06,170.5 481.28,170.49 481.5,170.48 481.72,170.47 481.94,170.46 482.16,170.45 482.38,170.44 482.6,170.43 482.82,170.43 483.04,170.42 483.26,170.42 483.48,170.42 483.7,170.42 483.92,170.42 484.14,170.42 484.36,170.42 484.58,170.43 484.8,170.43 485.02,170.44 485.24,170.45 485.46,170.46 485.68,170.47 485.9,170.48 486.12,170.49 486.34,170.5 486.56,170.52 486.78,170.53 487,170.55 487.22,170.57 487.44,170.58 487.66,170.6 487.88,170.62 488.1,170.64 488.32,170.67 488.54,170.69 488.76,170.71 488.98,170.74 489.2,170.76 489.42,170.79 489.64,170.82 489.86,170.84 490.08,170.87 490.3,170.9 490.52,170.93 490.74,170.96 490.96,170.99 491.18,171.02 491.4,171.05 491.62,171.09 491.84,171.12 492.06,171.15 492.28,171.19 492.5,171.22 492.72,171.25 492.94,171.29 493.16,171.32 493.38,171.36 493.6,171.39 493.82,171.43 494.04,171.46 494.26,171.5 494.48,171.53 494.7,171.57 494.92,171.6 495.14,171.64 495.36,171.67 495.58,171.71 495.8,171.75 496.02,171.78 496.24,171.81 496.46,171.85 496.68,171.88 496.9,171.92 497.12,171.95 497.34,171.98 497.56,172.02 497.78,172.05 498,172.08 498.22,172.11 498.44,172.14 498.66,172.17 498.88,172.2 499.1,172.23 499.32,172.26 499.54,172.29 499.76,172.32 499.98,172.34 500.2,172.37 500.42,172.4 500.64,172.42 500.86,172.44 501.08,172.47 501.3,172.49 501.52,172.51 501.74,172.53 501.96,172.55 502.18,172.57 502.4,172.59 502.62,172.61 502.84,172.63 503.06,172.64 503.28,172.66 503.5,172.67 503.72,172.68 503.94,172.7 504.16,172.71 504.38,172.72 504.6,172.73 504.82,172.74 505.04,172.74 505.26,172.75 505.48,172.76 505.7,172.76 505.92,172.76 506.14,172.77 506.36,172.77 506.58,172.77 506.8,172.77 507.02,172.77 507.24,172.77 507.46,172.77 507.68,172.76 507.9,172.76 508.12,172.75 508.34,172.75 508.56,172.74 508.78,172.73 509,172.72" fill="none" stroke="#3a3a3a" stroke-width="1"/>
<g fill="#1010ee"><circle cx="73.4" cy="36.43" r="3.5"/><circle cx="73.71" cy="40.26" r="3.5"/><circle cx="74.02" cy="44.3" r="3.5"/><circle cx="74.6" cy="52.4" r="3.5"/><circle cx="75.34" cy="63.57" r="3.5"/><circle cx="75.65" cy="68.55" r="3.5"/><circle cx="75.96" cy="73.68" r="3.5"/><circle cx="76.54" cy="83.66" r="3.5"/><circle cx="77.27" cy="96.9" r="3.5"/><circle cx="77.62" cy="103.29" r="3.5"/><circle cx="77.96" cy="109.78" r="3.5"/><circle cx="78.61" cy="122.17" r="3.5"/><circle cx="79.43" cy="138.14" r="3.5"/><circle cx="79.87" cy="146.95" r="3.5"/><circle cx="80.32" cy="155.75" r="3.5"/><circle cx="81.16" cy="172.16" r="3.5"/><circle cx="82.23" cy="192.44" r="3.5"/><circle cx="82.63" cy="199.95" r="3.5"/><circle cx="83.04" cy="207.31" r="3.5"/><circle cx="83.8" cy="220.6" r="3.5"/><circle cx="84.76" cy="236.33" r="3.5"/><circle cx="84.98" cy="239.69" r="3.5"/><circle cx="85.2" cy="242.97" r="3.5"/><circle cx="85.6" cy="248.91" r="3.5"/><circle cx="86.12" cy="256.01" r="3.5"/><circle cx="86.3" cy="258.39" r="3.5"/><circle cx="86.48" cy="260.7" r="3.5"/><circle cx="86.82" cy="264.87" r="3.5"/><circle cx="87.26" cy="269.81" r="3.5"/><circle cx="87.42" cy="271.59" r="3.5"/><circle cx="87.58" cy="273.31" r="3.5"/><circle cx="87.89" cy="276.38" r="3.5"/><circle cx="88.28" cy="279.97" r="3.5"/><circle cx="88.44" cy="281.3" r="3.5"/><circle cx="88.59" cy="282.57" r="3.5"/><circle cx="88.88" cy="284.81" r="3.5"/><circle cx="89.24" cy="287.37" r="3.5"/><circle cx="89.39" cy="288.32" r="3.5"/><circle cx="89.54" cy="289.22" r="3.5"/><circle cx="89.82" cy="290.77" r="3.5"/><circle cx="90.17" cy="292.47" r="3.5"/><circle cx="90.32" cy="293.09" r="3.5"/><circle cx="90.46" cy="293.66" r="3.5"/><circle cx="90.73" cy="294.59" r="3.5"/><circle cx="91.08" cy="295.51" r="3.5"/><circle cx="91.22" cy="295.81" r="3.5"/><circle cx="91.37" cy="296.06" r="3.5"/><circle cx="91.64" cy="296.4" r="3.5"/><circle cx="91.99" cy="296.59" r="3.5"/><circle cx="92.13" cy="296.58" r="3.5"/><circle cx="92.28" cy="296.52" r="3.5"/><circle cx="92.56" cy="296.28" r="3.5"/><circle cx="92.9" cy="295.72" r="3.5"/><circle cx="93.06" cy="295.39" r="3.5"/><circle cx="93.21" cy="295.01" r="3.5"/><circle cx="93.49" cy="294.16" r="3.5"/><circle cx="93.85" cy="292.83" r="3.5"/><circle cx="94.01" cy="292.15" r="3.5"/><circle cx="94.17" cy="291.42" r="3.5"/><circle cx="94.46" cy="289.91" r="3.5"/><circle cx="94.84" cy="287.73" r="3.5"/><circle cx="95.01" cy="286.65" r="3.5"/><circle cx="95.18" cy="285.52" r="3.5"/><circle cx="95.49" cy="283.24" r="3.5"/><circle cx="95.9" cy="280.08" r="3.5"/><circle cx="96.08" cy="278.51" r="3.5"/><circle cx="96.27" cy="276.87" r="3.5"/><circle cx="96.62" cy="273.64" r="3.5"/><circle cx="97.06" cy="269.26" r="3.5"/><circle cx="97.28" cy="267.01" r="3.5"/><circle cx="97.5" cy="264.69" r="3.5"/><circle cx="97.9" cy="260.16" r="3.5"/><circle cx="98.41" cy="254.1" r="3.5"/><circle cx="98.69" cy="250.75" r="3.5"/><circle cx="98.96" cy="247.32" r="3.5"/><circle cx="99.47" cy="240.66" r="3.5"/><circle cx="100.11" cy="231.88" r="3.5"/><circle cx="100.46" cy="226.92" r="3.5"/><circle cx="100.81" cy="221.88" r="3.5"/><circle cx="101.48" cy="212.23" r="3.5"/><circle cx="102.31" cy="199.75" r="3.5"/><circle cx="102.77" cy="192.86" r="3.5"/><circle cx="103.23" cy="185.96" r="3.5"/><circle cx="104.09" cy="173.09" r="3.5"/><circle cx="105.18" cy="157.14" r="3.5"/><circle cx="105.73" cy="149.38" r="3.5"/><circle cx="106.27" cy="141.83" r="3.5"/><circle cx="107.3" cy="128.42" r="3.5"/><circle cx="108.6" cy="113.13" r="3.5"/><circle cx="108.85" cy="110.4" r="3.5"/><circle cx="109.11" cy="107.76" r="3.5"/><circle cx="109.58" cy="103.07" r="3.5"/><circle cx="110.18" cy="97.61" r="3.5"/><circle cx="110.4" cy="95.79" r="3.5"/><circle cx="110.62" cy="94.04" r="3.5"/><circle cx="111.02" cy="90.98" r="3.5"/><circle cx="111.53" cy="87.49" r="3.5"/><circle cx="111.73" cy="86.26" r="3.5"/><circle cx="111.93" cy="85.1" r="3.5"/><circle cx="112.31" cy="83.11" r="3.5"/><circle cx="112.78" cy="80.94" r="3.5"/><circle cx="112.97" cy="80.18" r="3.5"/><circle cx="113.16" cy="79.48" r="3.5"/><circle cx="113.52" cy="78.36" r="3.5"/><circle cx="113.97" cy="77.26" r="3.5"/><circle cx="114.16" cy="76.92" r="3.5"/><circle cx="114.35" cy="76.64" r="3.5"/><circle cx="114.71" cy="76.29" r="3.5"/><circle cx="115.16" cy="76.17" r="3.5"/><circle cx="115.35" cy="76.23" r="3.5"/><circle cx="115.54" cy="76.36" r="3.5"/><circle cx="115.9" cy="76.78" r="3.5"/><circle cx="116.36" cy="77.63" r="3.5"/><circle cx="116.56" cy="78.11" r="3.5"/><circle cx="116.76" cy="78.67" r="3.5"/><circle cx="117.14" cy="79.89" r="3.5"/><circle cx="117.62" cy="81.78" r="3.5"/><circle cx="117.83" cy="82.75" r="3.5"/><circle cx="118.05" cy="83.8" r="3.5"/><circle cx="118.46" cy="85.96" r="3.5"/><circle cx="118.97" cy="89.05" r="3.5"/><circle cx="119.22" cy="90.64" r="3.5"/><circle cx="119.46" cy="92.33" r="3.5"/><circle cx="119.92" cy="95.69" r="3.5"/><circle cx="120.5" cy="100.33" r="3.5"/><circle cx="120.8" cy="102.87" r="3.5"/><circle cx="121.1" cy="105.5" r="3.5"/><circle cx="121.66" cy="110.69" r="3.5"/><circle cx="122.37" cy="117.68" r="3.5"/><circle cx="122.76" cy="121.67" r="3.5"/><circle cx="123.15" cy="125.77" r="3.5"/><circle cx="123.88" cy="133.7" r="3.5"/><circle cx="124.81" cy="144.08" r="3.5"/><circle cx="125.31" cy="149.86" r="3.5"/><circle cx="125.82" cy="155.69" r="3.5"/><circle cx="126.77" cy="166.6" r="3.5"/><circle cx="127.97" cy="180.19" r="3.5"/><circle cx="128.63" cy="187.4" r="3.5"/><circle cx="129.28" cy="194.37" r="3.5"/><circle cx="130.52" cy="206.63" r="3.5"/><circle cx="132.08" cy="220.22" r="3.5"/><circle cx="132.39" cy="222.65" r="3.5"/><circle cx="132.71" cy="224.97" r="3.5"/><circle cx="133.3" cy="229" r="3.5"/><circle cx="134.04" cy="233.5" r="3.5"/><circle cx="134.31" cy="234.94" r="3.5"/><circle cx="134.58" cy="236.28" r="3.5"/><circle cx="135.08" cy="238.55" r="3.5"/><circle cx="135.71" cy="240.94" r="3.5"/><circle cx="135.96" cy="241.73" r="3.5"/><circle cx="136.21" cy="242.43" r="3.5"/><circle cx="136.68" cy="243.51" r="3.5"/><circle cx="137.28" cy="244.45" r="3.5"/><circle cx="137.52" cy="244.69" r="3.5"/><circle cx="137.77" cy="244.85" r="3.5"/><circle cx="138.24" cy="244.92" r="3.5"/><circle cx="138.82" cy="244.59" r="3.5"/><circle cx="139.08" cy="244.3" r="3.5"/><circle cx="139.34" cy="243.92" r="3.5"/><circle cx="139.82" cy="242.98" r="3.5"/><circle cx="140.43" cy="241.37" r="3.5"/><circle cx="140.7" cy="240.47" r="3.5"/><circle cx="140.98" cy="239.49" r="3.5"/><circle cx="141.51" cy="237.39" r="3.5"/><circle cx="142.17" cy="234.29" r="3.5"/><circle cx="142.49" cy="232.6" r="3.5"/><circle cx="142.82" cy="230.8" r="3.5"/><circle cx="143.43" cy="227.14" r="3.5"/><circle cx="144.2" cy="222.04" r="3.5"/><circle cx="144.63" cy="219.05" r="3.5"/><circle cx="145.05" cy="215.93" r="3.5"/><circle cx="145.84" cy="209.77" r="3.5"/><circle cx="146.85" cy="201.5" r="3.5"/><circle cx="147.4" cy="196.81" r="3.5"/><circle cx="147.95" cy="192.03" r="3.5"/><circle cx="148.98" cy="182.96" r="3.5"/><circle cx="150.29" cy="171.48" r="3.5"/><circle cx="151" cy="165.32" r="3.5"/><circle cx="151.72" cy="159.33" r="3.5"/><circle cx="153.06" cy="148.72" r="3.5"/><circle cx="154.76" cy="136.87" r="3.5"/><circle cx="155.19" cy="134.23" r="3.5"/><circle cx="155.61" cy="131.74" r="3.5"/><circle cx="156.42" cy="127.52" r="3.5"/><circle cx="157.43" cy="123.04" r="3.5"/><circle cx="157.77" cy="121.76" r="3.5"/><circle cx="158.12" cy="120.6" r="3.5"/><circle cx="158.76" cy="118.76" r="3.5"/><circle cx="159.57" cy="117.04" r="3.5"/><circle cx="159.9" cy="116.55" r="3.5"/><circle cx="160.22" cy="116.18" r="3.5"/><circle cx="160.83" cy="115.77" r="3.5"/><circle cx="161.59" cy="115.82" r="3.5"/><circle cx="161.92" cy="116.03" r="3.5"/><circle cx="162.26" cy="116.35" r="3.5"/><circle cx="162.88" cy="117.25" r="3.5"/><circle cx="163.67" cy="118.94" r="3.5"/><circle cx="164.04" cy="119.93" r="3.5"/><circle cx="164.4" cy="121.04" r="3.5"/><circle cx="165.1" cy="123.45" r="3.5"/><circle cx="165.97" cy="127.05" r="3.5"/><circle cx="166.44" cy="129.21" r="3.5"/><circle cx="166.91" cy="131.51" r="3.5"/><circle cx="167.78" cy="136.2" r="3.5"/><circle cx="168.89" cy="142.72" r="3.5"/><circle cx="169.5" cy="146.51" r="3.5"/><circle cx="170.11" cy="150.42" r="3.5"/><circle cx="171.25" cy="157.98" r="3.5"/><circle cx="172.69" cy="167.71" r="3.5"/><circle cx="173.48" cy="173" r="3.5"/><circle cx="174.27" cy="178.17" r="3.5"/><circle cx="175.75" cy="187.37" r="3.5"/><circle cx="177.63" cy="197.64" r="3.5"/><circle cx="178.2" cy="200.37" r="3.5"/><circle cx="178.77" cy="202.89" r="3.5"/><circle cx="179.84" cy="207.01" r="3.5"/><circle cx="181.2" cy="211.01" r="3.5"/><circle cx="181.63" cy="211.99" r="3.5"/><circle cx="182.06" cy="212.81" r="3.5"/><circle cx="182.88" cy="213.95" r="3.5"/><circle cx="183.91" cy="214.62" r="3.5"/><circle cx="184.34" cy="214.64" r="3.5"/><circle cx="184.76" cy="214.52" r="3.5"/><circle cx="185.56" cy="213.91" r="3.5"/><circle cx="186.57" cy="212.44" r="3.5"/><circle cx="187.05" cy="211.49" r="3.5"/><circle cx="187.52" cy="210.38" r="3.5"/><circle cx="188.42" cy="207.89" r="3.5"/><circle cx="189.55" cy="204.05" r="3.5"/><circle cx="190.17" cy="201.66" r="3.5"/><circle cx="190.8" cy="199.08" r="3.5"/><circle cx="191.96" cy="193.85" r="3.5"/><circle cx="193.43" cy="186.64" r="3.5"/><circle cx="194.24" cy="182.53" r="3.5"/><circle cx="195.05" cy="178.37" r="3.5"/><circle cx="196.56" cy="170.59" r="3.5"/><circle cx="198.48" cy="161.23" r="3.5"/><circle cx="199.53" cy="156.54" r="3.5"/><circle cx="200.58" cy="152.27" r="3.5"/><circle cx="202.54" cy="145.67" r="3.5"/><circle cx="205.04" cy="140.4" r="3.5"/><circle cx="205.59" cy="139.74" r="3.5"/><circle cx="206.15" cy="139.27" r="3.5"/><circle cx="207.19" cy="138.9" r="3.5"/><circle cx="208.51" cy="139.4" r="3.5"/><circle cx="209.09" cy="139.95" r="3.5"/><circle cx="209.68" cy="140.69" r="3.5"/><circle cx="210.77" cy="142.59" r="3.5"/><circle cx="212.16" cy="145.84" r="3.5"/><circle cx="212.92" cy="147.98" r="3.5"/><circle cx="213.68" cy="150.33" r="3.5"/><circle cx="215.11" cy="155.23" r="3.5"/><circle cx="216.91" cy="162.06" r="3.5"/><circle cx="217.9" cy="165.95" r="3.5"/><circle cx="218.89" cy="169.86" r="3.5"/><circle cx="220.74" cy="176.99" r="3.5"/><circle cx="223.09" cy="185.07" r="3.5"/><circle cx="224.15" cy="188.19" r="3.5"/><circle cx="225.22" cy="190.89" r="3.5"/><circle cx="227.21" cy="194.67" r="3.5"/><circle cx="229.73" cy="196.83" r="3.5"/><circle cx="230.45" cy="196.89" r="3.5"/><circle cx="231.18" cy="196.71" r="3.5"/><circle cx="232.53" cy="195.72" r="3.5"/><circle cx="234.25" cy="193.37" r="3.5"/><circle cx="235.19" cy="191.61" r="3.5"/><circle cx="236.13" cy="189.57" r="3.5"/><circle cx="237.89" cy="185.1" r="3.5"/><circle cx="240.12" cy="178.66" r="3.5"/><circle cx="241.25" cy="175.25" r="3.5"/><circle cx="242.38" cy="171.85" r="3.5"/><circle cx="244.49" cy="165.76" r="3.5"/><circle cx="247.16" cy="159.22" r="3.5"/><circle cx="248.29" cy="157.03" r="3.5"/><circle cx="249.42" cy="155.24" r="3.5"/><circle cx="251.53" cy="153.07" r="3.5"/><circle cx="254.2" cy="152.64" r="3.5"/><circle cx="255.18" cy="153.12" r="3.5"/><circle cx="256.17" cy="153.92" r="3.5"/><circle cx="258" cy="156.2" r="3.5"/><circle cx="260.33" cy="160.31" r="3.5"/><circle cx="261.46" cy="162.66" r="3.5"/><circle cx="262.59" cy="165.15" r="3.5"/><circle cx="264.7" cy="170.02" r="3.5"/><circle cx="267.37" cy="176.01" r="3.5"/><circle cx="268.5" cy="178.3" r="3.5"/><circle cx="269.63" cy="180.38" r="3.5"/><circle cx="271.74" cy="183.56" r="3.5"/><circle cx="274.41" cy="185.97" r="3.5"/><circle cx="275.54" cy="186.4" r="3.5"/><circle cx="276.67" cy="186.48" r="3.5"/><circle cx="278.78" cy="185.7" r="3.5"/><circle cx="281.45" cy="183.16" r="3.5"/><circle cx="282.58" cy="181.67" r="3.5"/><circle cx="283.71" cy="179.99" r="3.5"/><circle cx="285.82" cy="176.47" r="3.5"/><circle cx="288.49" cy="171.74" r="3.5"/><circle cx="289.62" cy="169.8" r="3.5"/><circle cx="290.75" cy="167.95" r="3.5"/><circle cx="292.86" cy="164.89" r="3.5"/><circle cx="295.53" cy="162.04" r="3.5"/><circle cx="296.66" cy="161.25" r="3.5"/><circle cx="297.79" cy="160.73" r="3.5"/><circle cx="299.9" cy="160.49" r="3.5"/><circle cx="302.57" cy="161.5" r="3.5"/><circle cx="303.7" cy="162.31" r="3.5"/><circle cx="304.83" cy="163.33" r="3.5"/><circle cx="306.94" cy="165.68" r="3.5"/><circle cx="309.61" cy="169.16" r="3.5"/><circle cx="310.74" cy="170.69" r="3.5"/><circle cx="311.87" cy="172.21" r="3.5"/><circle cx="313.98" cy="174.89" r="3.5"/><circle cx="316.65" cy="177.72" r="3.5"/><circle cx="317.78" cy="178.65" r="3.5"/><circle cx="318.91" cy="179.38" r="3.5"/><circle cx="321.02" cy="180.23" r="3.5"/><circle cx="323.69" cy="180.26" r="3.5"/><circle cx="324.82" cy="179.94" r="3.5"/><circle cx="325.95" cy="179.43" r="3.5"/><circle cx="328.06" cy="178.05" r="3.5"/><circle cx="330.73" cy="175.68" r="3.5"/><circle cx="331.86" cy="174.55" r="3.5"/><circle cx="332.99" cy="173.39" r="3.5"/><circle cx="335.1" cy="171.2" r="3.5"/><circle cx="337.77" cy="168.67" r="3.5"/><circle cx="338.9" cy="167.75" r="3.5"/><circle cx="340.03" cy="166.95" r="3.5"/><circle cx="342.14" cy="165.82" r="3.5"/><circle cx="344.81" cy="165.16" r="3.5"/><circle cx="345.94" cy="165.15" r="3.5"/><circle cx="347.07" cy="165.29" r="3.5"/><circle cx="349.18" cy="165.95" r="3.5"/><circle cx="351.85" cy="167.4" r="3.5"/><circle cx="352.98" cy="168.16" r="3.5"/><circle cx="354.11" cy="168.99" r="3.5"/><circle cx="356.22" cy="170.65" r="3.5"/><circle cx="358.89" cy="172.75" r="3.5"/><circle cx="360.02" cy="173.57" r="3.5"/><circle cx="361.15" cy="174.32" r="3.5"/><circle cx="363.26" cy="175.52" r="3.5"/><circle cx="365.93" cy="176.5" r="3.5"/><circle cx="367.06" cy="176.72" r="3.5"/><circle cx="368.19" cy="176.81" r="3.5"/><circle cx="370.3" cy="176.67" r="3.5"/><circle cx="372.97" cy="175.93" r="3.5"/><circle cx="374.1" cy="175.46" r="3.5"/><circle cx="375.23" cy="174.91" r="3.5"/><circle cx="377.34" cy="173.75" r="3.5"/><circle cx="380.01" cy="172.13" r="3.5"/><circle cx="381.14" cy="171.45" r="3.5"/><circle cx="382.27" cy="170.8" r="3.5"/><circle cx="384.38" cy="169.69" r="3.5"/><circle cx="387.05" cy="168.6" r="3.5"/><circle cx="388.18" cy="168.28" r="3.5"/><circle cx="389.31" cy="168.05" r="3.5"/><circle cx="391.42" cy="167.87" r="3.5"/><circle cx="394.09" cy="168.1" r="3.5"/><circle cx="395.22" cy="168.34" r="3.5"/><circle cx="396.35" cy="168.65" r="3.5"/><circle cx="398.46" cy="169.4" r="3.5"/><circle cx="401.13" cy="170.57" r="3.5"/><circle cx="402.26" cy="171.09" r="3.5"/><circle cx="403.39" cy="171.62" r="3.5"/><circle cx="405.5" cy="172.56" r="3.5"/><circle cx="408.17" cy="173.6" r="3.5"/><circle cx="409.3" cy="173.95" r="3.5"/><circle cx="410.43" cy="174.24" r="3.5"/><circle cx="412.54" cy="174.6" r="3.5"/><circle cx="415.21" cy="174.71" r="3.5"/><circle cx="416.34" cy="174.63" r="3.5"/><circle cx="417.47" cy="174.5" r="3.5"/><circle cx="419.58" cy="174.08" r="3.5"/><circle cx="422.25" cy="173.31" r="3.5"/><circle cx="423.38" cy="172.93" r="3.5"/><circle cx="424.51" cy="172.54" r="3.5"/><circle cx="426.62" cy="171.78" r="3.5"/><circle cx="429.29" cy="170.88" r="3.5"/><circle cx="430.42" cy="170.55" r="3.5"/><circle cx="431.55" cy="170.25" r="3.5"/><circle cx="433.66" cy="169.81" r="3.5"/><circle cx="436.33" cy="169.51" r="3.5"/><circle cx="437.46" cy="169.48" r="3.5"/><circle cx="438.59" cy="169.5" r="3.5"/><circle cx="440.7" cy="169.67" r="3.5"/><circle cx="443.37" cy="170.12" r="3.5"/><circle cx="444.5" cy="170.37" r="3.5"/><circle cx="445.63" cy="170.64" r="3.5"/><circle cx="447.74" cy="171.2" r="3.5"/><circle cx="450.41" cy="171.93" r="3.5"/><circle cx="451.54" cy="172.22" r="3.5"/><circle cx="452.67" cy="172.49" r="3.5"/><circle cx="454.78" cy="172.93" r="3.5"/><circle cx="457.45" cy="173.32" r="3.5"/><circle cx="458.58" cy="173.42" r="3.5"/><circle cx="459.71" cy="173.48" r="3.5"/><circle cx="461.82" cy="173.47" r="3.5"/><circle cx="464.49" cy="173.26" r="3.5"/><circle cx="465.62" cy="173.12" r="3.5"/><circle cx="466.75" cy="172.95" r="3.5"/><circle cx="468.86" cy="172.56" r="3.5"/><circle cx="471.53" cy="172.01" r="3.5"/><circle cx="472.66" cy="171.78" r="3.5"/><circle cx="473.79" cy="171.55" r="3.5"/><circle cx="475.9" cy="171.15" r="3.5"/><circle cx="478.57" cy="170.74" r="3.5"/><circle cx="479.7" cy="170.62" r="3.5"/><circle cx="480.83" cy="170.52" r="3.5"/><circle cx="482.94" cy="170.42" r="3.5"/><circle cx="485.61" cy="170.46" r="3.5"/><circle cx="486.74" cy="170.53" r="3.5"/><circle cx="487.87" cy="170.62" r="3.5"/><circle cx="489.98" cy="170.86" r="3.5"/><circle cx="492.65" cy="171.24" r="3.5"/><circle cx="493.78" cy="171.42" r="3.5"/><circle cx="494.91" cy="171.6" r="3.5"/><circle cx="497.02" cy="171.93" r="3.5"/><circle cx="499.69" cy="172.31" r="3.5"/><circle cx="500.82" cy="172.44" r="3.5"/><circle cx="501.95" cy="172.55" r="3.5"/><circle cx="504.06" cy="172.7" r="3.5"/><circle cx="506.73" cy="172.77" r="3.5"/><circle cx="507.86" cy="172.76" r="3.5"/><circle cx="508.99" cy="172.72" r="3.5"/></g>
<polyline points="69,8.7 69.22,8.71 69.44,8.73 69.66,8.77 69.88,8.83 70.1,8.91 70.32,9 70.54,9.1 70.76,9.23 70.98,9.37 71.2,9.52 71.42,9.69 71.64,9.88 71.86,10.08 72.08,10.3 72.3,10.53 72.52,10.78 72.74,11.04 72.96,11.32 73.18,11.61 73.4,11.92 73.62,12.25 73.84,12.58 74.06,12.94 74.28,13.3 74.5,13.68 74.72,14.08 74.94,14.49 75.16,14.91 75.38,15.35 75.6,15.8 75.82,16.26 76.04,16.74 76.26,17.23 76.48,17.74 76.7,18.26 76.92,18.79 77.14,19.33 77.36,19.89 77.58,20.46 77.8,21.04 78.02,21.64 78.24,22.24 78.46,22.86 78.68,23.5 78.9,24.14 79.12,24.79 79.34,25.46 79.56,26.14 79.78,26.83 80,27.53 80.22,28.24 80.44,28.97 80.66,29.7 80.88,30.45 81.1,31.2 81.32,31.97 81.54,32.74 81.76,33.53 81.98,34.33 82.2,35.14 82.42,35.95 82.64,36.78 82.86,37.62 83.08,38.46 83.3,39.32 83.52,40.18 83.74,41.05 83.96,41.94 84.18,42.83 84.4,43.73 84.62,44.64 84.84,45.55 85.06,46.48 85.28,47.41 85.5,48.35 85.72,49.3 85.94,50.26 86.16,51.22 86.38,52.19 86.6,53.17 86.82,54.16 87.04,55.15 87.26,56.15 87.48,57.16 87.7,58.17 87.92,59.19 88.14,60.22 88.36,61.25 88.58,62.29 88.8,63.33 89.02,64.38 89.24,65.44 89.46,66.5 89.68,67.56 89.9,68.63 90.12,69.71 90.34,70.79 90.56,71.88 90.78,72.97 91,74.07 91.22,75.17 91.44,76.27 91.66,77.38 91.88,78.49 92.1,79.61 92.32,80.73 92.54,81.85 92.76,82.98 92.98,84.11 93.2,85.24 93.42,86.38 93.64,87.52 93.86,88.66 94.08,89.81 94.3,90.96 94.52,92.11 94.74,93.26 94.96,94.41 95.18,95.57 95.4,96.73 95.62,97.89 95.84,99.05 96.06,100.22 96.28,101.38 96.5,102.55 96.72,103.72 96.94,104.88 97.16,106.05 97.38,107.22 97.6,108.4 97.82,109.57 98.04,110.74 98.26,111.91 98.48,113.08 98.7,114.26 98.92,115.43 99.14,116.6 99.36,117.77 99.58,118.94 99.8,120.11 100.02,121.28 100.24,122.45 100.46,123.62 100.68,124.79 100.9,125.95 101.12,127.12 101.34,128.28 101.56,129.44 101.78,130.6 102,131.76 102.22,132.92 102.44,134.08 102.66,135.23 102.88,136.38 103.1,137.53 103.32,138.67 103.54,139.82 103.76,140.96 103.98,142.1 104.2,143.23 104.42,144.37 104.64,145.5 104.86,146.62 105.08,147.75 105.3,148.87 105.52,149.99 105.74,151.1 105.96,152.21 106.18,153.32 106.4,154.42 106.62,155.52 106.84,156.61 107.06,157.7 107.28,158.79 107.5,159.87 107.72,160.95 107.94,162.03 108.16,163.1 108.38,164.16 108.6,165.22 108.82,166.28 109.04,167.33 109.26,168.37 109.48,169.42 109.7,170.45 109.92,171.48 110.14,172.51 110.36,173.53 110.58,174.54 110.8,175.55 111.02,176.56 111.24,177.55 111.46,178.55 111.68,179.53 111.9,180.52 112.12,181.49 112.34,182.46 112.56,183.42 112.78,184.38 113,185.33 113.22,186.28 113.44,187.21 113.66,188.15 113.88,189.07 114.1,189.99 114.32,190.9 114.54,191.81 114.76,192.71 114.98,193.6 115.2,194.49 115.42,195.37 115.64,196.24 115.86,197.1 116.08,197.96 116.3,198.81 116.52,199.66 116.74,200.49 116.96,201.32 117.18,202.15 117.4,202.96 117.62,203.77 117.84,204.57 118.06,205.36 118.28,206.15 118.5,206.93 118.72,207.7 118.94,208.46 119.16,209.22 119.38,209.96 119.6,210.7 119.82,211.44 120.04,212.16 120.26,212.88 120.48,213.59 120.7,214.29 120.92,214.98 121.14,215.66 121.36,216.34 121.58,217.01 121.8,217.67 122.02,218.32 122.24,218.97 122.46,219.61 122.68,220.23 122.9,220.85 123.12,221.47 123.34,222.07 123.56,222.67 123.78,223.25 124,223.83 124.22,224.4 124.44,224.97 124.66,225.52 124.88,226.07 125.1,226.61 125.32,227.13 125.54,227.66 125.76,228.17 125.98,228.67 126.2,229.17 126.42,229.66 126.64,230.14 126.86,230.61 127.08,231.07 127.3,231.52 127.52,231.97 127.74,232.4 127.96,232.83 128.18,233.25 128.4,233.67 128.62,234.07 128.84,234.46 129.06,234.85 129.28,235.23 129.5,235.6 129.72,235.96 129.94,236.31 130.16,236.66 130.38,236.99 130.6,237.32 130.82,237.64 131.04,237.95 131.26,238.25 131.48,238.55 131.7,238.83 131.92,239.11 132.14,239.38 132.36,239.64 132.58,239.89 132.8,240.14 133.02,240.37 133.24,240.6 133.46,240.82 133.68,241.03 133.9,241.24 134.12,241.43 134.34,241.62 134.56,241.8 134.78,241.97 135,242.13 135.22,242.29 135.44,242.44 135.66,242.57 135.88,242.71 136.1,242.83 136.32,242.94 136.54,243.05 136.76,243.15 136.98,243.24 137.2,243.33 137.42,243.4 137.64,243.47 137.86,243.53 138.08,243.58 138.3,243.63 138.52,243.67 138.74,243.7 138.96,243.72 139.18,243.74 139.4,243.74 139.62,243.74 139.84,243.74 140.06,243.72 140.28,243.7 140.5,243.67 140.72,243.64 140.94,243.59 141.16,243.54 141.38,243.49 141.6,243.42 141.82,243.35 142.04,243.27 142.26,243.19 142.48,243.1 142.7,243 142.92,242.89 143.14,242.78 143.36,242.66 143.58,242.53 143.8,242.4 144.02,242.26 144.24,242.12 144.46,241.96 144.68,241.81 144.9,241.64 145.12,241.47 145.34,241.29 145.56,241.11 145.78,240.92 146,240.72 146.22,240.52 146.44,240.32 146.66,240.1 146.88,239.88 147.1,239.66 147.32,239.42 147.54,239.19 147.76,238.95 147.98,238.7 148.2,238.44 148.42,238.18 148.64,237.92 148.86,237.65 149.08,237.37 149.3,237.09 149.52,236.8 149.74,236.51 149.96,236.22 150.18,235.91 150.4,235.61 150.62,235.3 150.84,234.98 151.06,234.66 151.28,234.33 151.5,234 151.72,233.67 151.94,233.32 152.16,232.98 152.38,232.63 152.6,232.28 152.82,231.92 153.04,231.56 153.26,231.19 153.48,230.82 153.7,230.44 153.92,230.06 154.14,229.68 154.36,229.29 154.58,228.9 154.8,228.51 155.02,228.11 155.24,227.7 155.46,227.3 155.68,226.89 155.9,226.47 156.12,226.06 156.34,225.64 156.56,225.21 156.78,224.79 157,224.36 157.22,223.92 157.44,223.49 157.66,223.05 157.88,222.6 158.1,222.16 158.32,221.71 158.54,221.26 158.76,220.8 158.98,220.35 159.2,219.89 159.42,219.42 159.64,218.96 159.86,218.49 160.08,218.02 160.3,217.55 160.52,217.08 160.74,216.6 160.96,216.12 161.18,215.64 161.4,215.16 161.62,214.67 161.84,214.19 162.06,213.7 162.28,213.21 162.5,212.72 162.72,212.22 162.94,211.73 163.16,211.23 163.38,210.73 163.6,210.23 163.82,209.73 164.04,209.23 164.26,208.73 164.48,208.22 164.7,207.71 164.92,207.21 165.14,206.7 165.36,206.19 165.58,205.68 165.8,205.17 166.02,204.66 166.24,204.14 166.46,203.63 166.68,203.11 166.9,202.6 167.12,202.08 167.34,201.57 167.56,201.05 167.78,200.54 168,200.02 168.22,199.5 168.44,198.99 168.66,198.47 168.88,197.95 169.1,197.43 169.32,196.91 169.54,196.4 169.76,195.88 169.98,195.36 170.2,194.82 170.42,194.27 170.64,193.73 170.86,193.18 171.08,192.64 171.3,192.09 171.52,191.55 171.74,191 171.96,190.46 172.18,189.92 172.4,189.38 172.62,188.84 172.84,188.3 173.06,187.76 173.28,187.22 173.5,186.68 173.72,186.15 173.94,185.61 174.16,185.08 174.38,184.55 174.6,184.01 174.82,183.48 175.04,182.95 175.26,182.43 175.48,181.9 175.7,181.38 175.92,180.85 176.14,180.33 176.36,179.81 176.58,179.29 176.8,178.77 177.02,178.26 177.24,177.74 177.46,177.23 177.68,176.72 177.9,176.21 178.12,175.71 178.34,175.2 178.56,174.7 178.78,174.2 179,173.7 179.22,173.2 179.44,172.71 179.66,172.22 179.88,171.73 180.1,171.24 180.32,170.75 180.54,170.27 180.76,169.79 180.98,169.31 181.2,168.83 181.42,168.36 181.64,167.89 181.86,167.42 182.08,166.95 182.3,166.49 182.52,166.03 182.74,165.57 182.96,165.11 183.18,164.66 183.4,164.21 183.62,163.76 183.84,163.31 184.06,162.87 184.28,162.43 184.5,161.99 184.72,161.56 184.94,161.13 185.16,160.72 185.38,160.33 185.6,159.94 185.82,159.56 186.04,159.17 186.26,158.79 186.48,158.42 186.7,158.04 186.92,157.67 187.14,157.3 187.36,156.94 187.58,156.58 187.8,156.22 188.02,155.86 188.24,155.51 188.46,155.16 188.68,154.82 188.9,154.48 189.12,154.14 189.34,153.8 189.56,153.47 189.78,153.14 190,152.82 190.22,152.5 190.44,152.18 190.66,151.86 190.88,151.55 191.1,151.25 191.32,150.94 191.54,150.64 191.76,150.34 191.98,150.05 192.2,149.76 192.42,149.47 192.64,149.19 192.86,148.91 193.08,148.63 193.3,148.36 193.52,148.09 193.74,147.83 193.96,147.57 194.18,147.31 194.4,147.05 194.62,146.8 194.84,146.56 195.06,146.31 195.28,146.07 195.5,145.84 195.72,145.61 195.94,145.38 196.16,145.15 196.38,144.93 196.6,144.71 196.82,144.5 197.04,144.29 197.26,144.08 197.48,143.88 197.7,143.68 197.92,143.49 198.14,143.3 198.36,143.11 198.58,142.92 198.8,142.74 199.02,142.57 199.24,142.39 199.46,142.23 199.68,142.06 199.9,141.9 200.12,141.74 200.34,141.59 200.56,141.44 200.78,141.29 201,141.15 201.22,141.01 201.44,140.87 201.66,140.74 201.88,140.61 202.1,140.49 202.32,140.36 202.54,140.25 202.76,140.13 202.98,140.02 203.2,139.92 203.42,139.81 203.64,139.72 203.86,139.62 204.08,139.53 204.3,139.44 204.52,139.36 204.74,139.27 204.96,139.2 205.18,139.12 205.4,139.05 205.62,138.99 205.84,138.92 206.06,138.86 206.28,138.81 206.5,138.75 206.72,138.7 206.94,138.66 207.16,138.62 207.38,138.58 207.6,138.54 207.82,138.51 208.04,138.48 208.26,138.46 208.48,138.44 208.7,138.42 208.92,138.4 209.14,138.39 209.36,138.38 209.58,138.38 209.8,138.38 210.02,138.38 210.24,138.38 210.46,138.39 210.68,138.4 210.9,138.42 211.12,138.43 211.34,138.45 211.56,138.48 211.78,138.51 212,138.54 212.22,138.57 212.44,138.61 212.66,138.65 212.88,138.69 213.1,138.73 213.32,138.78 213.54,138.83 213.76,138.89 213.98,138.95 214.2,139.01 214.42,139.07 214.64,139.14 214.86,139.21 215.08,139.26 215.3,139.27 215.52,139.29 215.74,139.31 215.96,139.34 216.18,139.36 216.4,139.39 216.62,139.43 216.84,139.46 217.06,139.5 217.28,139.54 217.5,139.58 217.72,139.63 217.94,139.68 218.16,139.73 218.38,139.78 218.6,139.84 218.82,139.9 219.04,139.96 219.26,140.02 219.48,140.08 219.7,140.15 219.92,140.22 220.14,140.29 220.36,140.37 220.58,140.45 220.8,140.53 221.02,140.61 221.24,140.69 221.46,140.78 221.68,140.86 221.9,140.95 222.12,141.05 222.34,141.14 222.56,141.24 222.78,141.33 223,141.43 223.22,141.54 223.44,141.64 223.66,141.75 223.88,141.85 224.1,141.96 224.32,142.08 224.54,142.19 224.76,142.3 224.98,142.42 225.2,142.54 225.42,142.67 225.64,142.8 225.86,142.92 226.08,143.05 226.3,143.19 226.52,143.32 226.74,143.45 226.96,143.59 227.18,143.73 227.4,143.87 227.62,144.01 227.84,144.15 228.06,144.29 228.28,144.44 228.5,144.58 228.72,144.73 228.94,144.88 229.16,145.03 229.38,145.18 229.6,145.33 229.82,145.49 230.04,145.64 230.26,145.8 230.48,145.95 230.7,146.11 230.92,146.27 231.14,146.43 231.36,146.59 231.58,146.75 231.8,146.92 232.02,147.08 232.24,147.24 232.46,147.41 232.68,147.57 232.9,147.74 233.12,147.91 233.34,148.08 233.56,148.25 233.78,148.42 234,148.59 234.22,148.76 234.44,148.93 234.66,149.1 234.88,149.27 235.1,149.45 235.32,149.62 235.54,149.79 235.76,149.97 235.98,150.14 236.2,150.39 236.42,150.64 236.64,150.9 236.86,151.15 237.08,151.41 237.3,151.66 237.52,151.92 237.74,152.17 237.96,152.43 238.18,152.68 238.4,152.94 238.62,153.19 238.84,153.45 239.06,153.7 239.28,153.96 239.5,154.22 239.72,154.47 239.94,154.73 240.16,155.44 240.38,156.33 240.6,157.22 240.82,158.11 241.04,158.87 241.26,159.06 241.48,159.25 241.7,159.44 241.92,159.64 242.14,159.83 242.36,160.02 242.58,160.21 242.8,160.4 243.02,160.59 243.24,160.77 243.46,160.96 243.68,161.15 243.9,161.34 244.12,161.53 244.34,161.71 244.56,161.9 244.78,162.09 245,162.27 245.22,162.46 245.44,162.64 245.66,162.82 245.88,163.01 246.1,163.19 246.32,163.37 246.54,163.55 246.76,163.73 246.98,163.91 247.2,164.09 247.42,164.27 247.64,164.45 247.86,164.63 248.08,164.8 248.3,164.98 248.52,165.15 248.74,165.33 248.96,165.5 249.18,165.67 249.4,165.84 249.62,166.01 249.84,166.18 250.06,166.36 250.28,166.56 250.5,166.77 250.72,166.97 250.94,167.17 251.16,167.37 251.38,167.57 251.6,167.77 251.82,167.96 252.04,168.16 252.26,168.35 252.48,168.55 252.7,168.74 252.92,168.93 253.14,169.12 253.36,169.31 253.58,169.5 253.8,169.69 254.02,169.87 254.24,170.06 254.46,170.24 254.68,170.42 254.9,170.6 255.12,170.78 255.34,170.96 255.56,171.14 255.78,171.31 256,171.49 256.22,171.66 256.44,171.83 256.66,172 256.88,172.17 257.1,172.34 257.32,172.5 257.54,172.67 257.76,172.83 257.98,172.99 258.2,173.15 258.42,173.31 258.64,173.47 258.86,173.63 259.08,173.78 259.3,173.94 259.52,174.09 259.74,174.24 259.96,174.39 260.18,174.53 260.4,174.68 260.62,174.82 260.84,174.97 261.06,175.11 261.28,175.25 261.5,175.39 261.72,175.52 261.94,175.66 262.16,175.82 262.38,175.99 262.6,176.16 262.82,176.33 263.04,176.5 263.26,176.66 263.48,176.82 263.7,176.99 263.92,177.15 264.14,177.31 264.36,177.46 264.58,177.62 264.8,177.77 265.02,177.92 265.24,178.07 265.46,178.22 265.68,178.37 265.9,178.52 266.12,178.66 266.34,178.8 266.56,178.94 266.78,179.08 267,179.22 267.22,179.35 267.44,179.49 267.66,179.62 267.88,179.75 268.1,179.88 268.32,180.01 268.54,180.14 268.76,180.26 268.98,180.38 269.2,180.5 269.42,180.62 269.64,180.74 269.86,180.86 270.08,180.97 270.3,181.08 270.52,181.2 270.74,181.31 270.96,181.41 271.18,181.52 271.4,181.62 271.62,181.73 271.84,181.83 272.06,181.93 272.28,182.03 272.5,182.12 272.72,182.22 272.94,182.31 273.16,182.4 273.38,182.49 273.6,182.58 273.82,182.67 274.04,182.75 274.26,182.84 274.48,182.92 274.7,183 274.92,183.08 275.14,183.14 275.36,183.18 275.58,183.23 275.8,183.27 276.02,183.31 276.24,183.35 276.46,183.39 276.68,183.42 276.9,183.46 277.12,183.49 277.34,183.52 277.56,183.55 277.78,183.58 278,183.61 278.22,183.63 278.44,183.66 278.66,183.68 278.88,183.7 279.1,183.72 279.32,183.74 279.54,183.75 279.76,183.77 279.98,183.78 280.2,183.79 280.42,183.8 280.64,183.81 280.86,183.82 281.08,183.83 281.3,183.83 281.52,183.83 281.74,183.84 281.96,183.84 282.18,183.84 282.4,183.83 282.62,183.83 282.84,183.83 283.06,183.82 283.28,183.81 283.5,183.8 283.72,183.79 283.94,183.78 284.16,183.77 284.38,183.75 284.6,183.74 284.82,183.72 285.04,183.7 285.26,183.68 285.48,183.66 285.7,183.64 285.92,183.62 286.14,183.59 286.36,183.57 286.58,183.54 286.8,183.51 287.02,183.48 287.24,183.45 287.46,183.42 287.68,183.39 287.9,183.36 288.12,183.32 288.34,183.28 288.56,183.25 288.78,183.21 289,183.17 289.22,183.13 289.44,183.09 289.66,183.04 289.88,183 290.1,182.96 290.32,182.91 290.54,182.86 290.76,182.82 290.98,182.77 291.2,182.72 291.42,182.67 291.64,182.61 291.86,182.56 292.08,182.51 292.3,182.45 292.52,182.4 292.74,182.34 292.96,182.28 293.18,182.22 293.4,182.17 293.62,182.11 293.84,182.04 294.06,181.98 294.28,181.92 294.5,181.86 294.72,181.79 294.94,181.73 295.16,181.66 295.38,181.59 295.6,181.53 295.82,181.46 296.04,181.39 296.26,181.32 296.48,181.25 296.7,181.18 296.92,181.11 297.14,181.04 297.36,180.96 297.58,180.89 297.8,180.81 298.02,180.74 298.24,180.66 298.46,180.59 298.68,180.51 298.9,180.43 299.12,180.36 299.34,180.28 299.56,180.2 299.78,180.12 300,180.04 300.22,179.99 300.44,179.95 300.66,179.9 300.88,179.85 301.1,179.8 301.32,179.76 301.54,179.71 301.76,179.66 301.98,179.61 302.2,179.56 302.42,179.51 302.64,179.46 302.86,179.41 303.08,179.36 303.3,179.31 303.52,179.25 303.74,179.2 303.96,179.15 304.18,179.1 304.4,179.04 304.62,178.99 304.84,178.94 305.06,178.88 305.28,178.83 305.5,178.77 305.72,178.72 305.94,178.66 306.16,178.42 306.38,178.1 306.6,177.78 306.82,177.46 307.04,177.18 307.26,177.08 307.48,176.98 307.7,176.87 307.92,176.77 308.14,176.67 308.36,176.57 308.58,176.46 308.8,176.36 309.02,176.26 309.24,176.16 309.46,176.05 309.68,175.95 309.9,175.85 310.12,175.74 310.34,175.64 310.56,175.54 310.78,175.44 311,175.33 311.22,175.23 311.44,175.13 311.66,175.03 311.88,174.92 312.1,174.82 312.32,174.72 312.54,174.62 312.76,174.51 312.98,174.41 313.2,174.31 313.42,174.21 313.64,174.11 313.86,174 314.08,173.9 314.3,173.8 314.52,173.7 314.74,173.6 314.96,173.5 315.18,173.4 315.4,173.3 315.62,173.2 315.84,173.1 316.06,173 316.28,172.9 316.5,172.8 316.72,172.7 316.94,172.61 317.16,172.51 317.38,172.41 317.6,172.31 317.82,172.22 318.04,172.12 318.26,172.02 318.48,171.93 318.7,171.83 318.92,171.74 319.14,171.64 319.36,171.55 319.58,171.45 319.8,171.36 320.02,171.26 320.24,171.17 320.46,171.08 320.68,170.99 320.9,170.89 321.12,170.8 321.34,170.71 321.56,170.62 321.78,170.53 322,170.44 322.22,170.35 322.44,170.26 322.66,170.18 322.88,170.09 323.1,170 323.32,169.91 323.54,169.83 323.76,169.74 323.98,169.66 324.2,169.57 324.42,169.49 324.64,169.4 324.86,169.32 325.08,169.24 325.3,169.16 325.52,169.07 325.74,168.99 325.96,168.91 326.18,168.83 326.4,168.75 326.62,168.68 326.84,168.6 327.06,168.52 327.28,168.44 327.5,168.37 327.72,168.29 327.94,168.22 328.16,168.14 328.38,168.07 328.6,168 328.82,167.92 329.04,167.85 329.26,167.78 329.48,167.71 329.7,167.64 329.92,167.57 330.14,167.5 330.36,167.43 330.58,167.37 330.8,167.3 331.02,167.24 331.24,167.17 331.46,167.11 331.68,167.05 331.9,166.98 332.12,166.92 332.34,166.86 332.56,166.8 332.78,166.74 333,166.68 333.22,166.62 333.44,166.57 333.66,166.51 333.88,166.45 334.1,166.4 334.32,166.34 334.54,166.29 334.76,166.23 334.98,166.18 335.2,166.13 335.42,166.08 335.64,166.03 335.86,165.98 336.08,165.93 336.3,165.88 336.52,165.83 336.74,165.79 336.96,165.74 337.18,165.69 337.4,165.65 337.62,165.6 337.84,165.56 338.06,165.52 338.28,165.48 338.5,165.44 338.72,165.39 338.94,165.35 339.16,165.32 339.38,165.28 339.6,165.24 339.82,165.2 340.04,165.17 340.26,165.13 340.48,165.1 340.7,165.06 340.92,165.03 341.14,165 341.36,164.96 341.58,164.93 341.8,164.9 342.02,164.87 342.24,164.84 342.46,164.82 342.68,164.79 342.9,164.76 343.12,164.74 343.34,164.71 343.56,164.69 343.78,164.66 344,164.64 344.22,164.62 344.44,164.59 344.66,164.57 344.88,164.55 345.1,164.53 345.32,164.51 345.54,164.5 345.76,164.48 345.98,164.46 346.2,164.45 346.42,164.43 346.64,164.42 346.86,164.4 347.08,164.39 347.3,164.38 347.52,164.36 347.74,164.35 347.96,164.34 348.18,164.33 348.4,164.32 348.62,164.31 348.84,164.31 349.06,164.3 349.28,164.29 349.5,164.29 349.72,164.28 349.94,164.28 350.16,164.27 350.38,164.27 350.6,164.27 350.82,164.26 351.04,164.26 351.26,164.26 351.48,164.26 351.7,164.26 351.92,164.26 352.14,164.26 352.36,164.27 352.58,164.27 352.8,164.27 353.02,164.28 353.24,164.28 353.46,164.29 353.68,164.29 353.9,164.3 354.12,164.31 354.34,164.31 354.56,164.32 354.78,164.33 355,164.34 355.22,164.35 355.44,164.36 355.66,164.37 355.88,164.38 356.1,164.4 356.32,164.41 356.54,164.42 356.76,164.44 356.98,164.45 357.2,164.47 357.42,164.48 357.64,164.5 357.86,164.52 358.08,164.53 358.3,164.55 358.52,164.57 358.74,164.59 358.96,164.61 359.18,164.63 359.4,164.65 359.62,164.67 359.84,164.69 360.06,164.71 360.28,164.73 360.5,164.75 360.72,164.78 360.94,164.8 361.16,164.82 361.38,164.85 361.6,164.87 361.82,164.9 362.04,164.92 362.26,164.95 362.48,164.98 362.7,165 362.92,165.03 363.14,165.06 363.36,165.09 363.58,165.11 363.8,165.14 364.02,165.17 364.24,165.2 364.46,165.23 364.68,165.26 364.9,165.29 365.12,165.32 365.34,165.36 365.56,165.39 365.78,165.42 366,165.45 366.22,165.48 366.44,165.52 366.66,165.55 366.88,165.58 367.1,165.62 367.32,165.65 367.54,165.69 367.76,165.72 367.98,165.76 368.2,165.79 368.42,165.83 368.64,165.87 368.86,165.9 369.08,165.94 369.3,165.98 369.52,166.01 369.74,166.05 369.96,166.09 370.18,166.13 370.4,166.17 370.62,166.2 370.84,166.24 371.06,166.28 371.28,166.32 371.5,166.36 371.72,166.4 371.94,166.44 372.16,166.48 372.38,166.52 372.6,166.56 372.82,166.6 373.04,166.64 373.26,166.68 373.48,166.72 373.7,166.76 373.92,166.8 374.14,166.85 374.36,166.89 374.58,166.93 374.8,166.97 375.02,167.01 375.24,167.06 375.46,167.1 375.68,167.14 375.9,167.18 376.12,167.23 376.34,167.27 376.56,167.31 376.78,167.35 377,167.4 377.22,167.44 377.44,167.48 377.66,167.53 377.88,167.57 378.1,167.61 378.32,167.66 378.54,167.7 378.76,167.74 378.98,167.79 379.2,167.83 379.42,167.87 379.64,167.92 379.86,167.96 380.08,168 380.3,168.05 380.52,168.09 380.74,168.13 380.96,168.18 381.18,168.22 381.4,168.27 381.62,168.31 381.84,168.35 382.06,168.4 382.28,168.44 382.5,168.48 382.72,168.53 382.94,168.57 383.16,168.61 383.38,168.66 383.6,168.7 383.82,168.74 384.04,168.79 384.26,168.83 384.48,168.87 384.7,168.91 384.92,168.96 385.14,169 385.36,169.04 385.58,169.09 385.8,169.13 386.02,169.17 386.24,169.21 386.46,169.25 386.68,169.3 386.9,169.34 387.12,169.38 387.34,169.42 387.56,169.46 387.78,169.51 388,169.55 388.22,169.59 388.44,169.63 388.66,169.67 388.88,169.71 389.1,169.75 389.32,169.79 389.54,169.83 389.76,169.87 389.98,169.91 390.2,169.95 390.42,169.99 390.64,170.03 390.86,170.07 391.08,170.11 391.3,170.15 391.52,170.19 391.74,170.22 391.96,170.26 392.18,170.3 392.4,170.34 392.62,170.38 392.84,170.41 393.06,170.45 393.28,170.49 393.5,170.53 393.72,170.56 393.94,170.6 394.16,170.63 394.38,170.67 394.6,170.71 394.82,170.74 395.04,170.78 395.26,170.81 395.48,170.85 395.7,170.88 395.92,170.92 396.14,170.95 396.36,170.98 396.58,171.02 396.8,171.05 397.02,171.08 397.24,171.12 397.46,171.15 397.68,171.18 397.9,171.21 398.12,171.25 398.34,171.28 398.56,171.31 398.78,171.34 399,171.37 399.22,171.4 399.44,171.43 399.66,171.46 399.88,171.49 400.1,171.53 400.32,171.57 400.54,171.62 400.76,171.67 400.98,171.71 401.2,171.76 401.42,171.8 401.64,171.85 401.86,171.89 402.08,171.93 402.3,171.98 402.52,172.02 402.74,172.06 402.96,172.11 403.18,172.15 403.4,172.19 403.62,172.23 403.84,172.28 404.06,172.32 404.28,172.36 404.5,172.4 404.72,172.44 404.94,172.48 405.16,172.52 405.38,172.56 405.6,172.6 405.82,172.64 406.04,172.68 406.26,172.71 406.48,172.75 406.7,172.79 406.92,172.83 407.14,172.86 407.36,172.9 407.58,172.94 407.8,172.97 408.02,173.01 408.24,173.05 408.46,173.08 408.68,173.12 408.9,173.15 409.12,173.18 409.34,173.22 409.56,173.25 409.78,173.28 410,173.32 410.22,173.35 410.44,173.38 410.66,173.41 410.88,173.45 411.1,173.48 411.32,173.51 411.54,173.54 411.76,173.57 411.98,173.6 412.2,173.63 412.42,173.66 412.64,173.69 412.86,173.72 413.08,173.74 413.3,173.77 413.52,173.8 413.74,173.83 413.96,173.85 414.18,173.88 414.4,173.91 414.62,173.93 414.84,173.96 415.06,173.99 415.28,174.01 415.5,174.04 415.72,174.06 415.94,174.08 416.16,174.11 416.38,174.13 416.6,174.16 416.82,174.18 417.04,174.2 417.26,174.22 417.48,174.25 417.7,174.27 417.92,174.29 418.14,174.31 418.36,174.33 418.58,174.35 418.8,174.37 419.02,174.39 419.24,174.41 419.46,174.43 419.68,174.45 419.9,174.47 420.12,174.48 420.34,174.48 420.56,174.48 420.78,174.48 421,174.49 421.22,174.49 421.44,174.49 421.66,174.49 421.88,174.49 422.1,174.49 422.32,174.49 422.54,174.48 422.76,174.48 422.98,174.48 423.2,174.48 423.42,174.48 423.64,174.48 423.86,174.47 424.08,174.47 424.3,174.47 424.52,174.46 424.74,174.46 424.96,174.46 425.18,174.45 425.4,174.45 425.62,174.44 425.84,174.44 426.06,174.43 426.28,174.43 426.5,174.42 426.72,174.41 426.94,174.41 427.16,174.4 427.38,174.4 427.6,174.39 427.82,174.38 428.04,174.37 428.26,174.37 428.48,174.36 428.7,174.35 428.92,174.34 429.14,174.33 429.36,174.33 429.58,174.32 429.8,174.31 430.02,174.3 430.24,174.29 430.46,174.28 430.68,174.27 430.9,174.26 431.12,174.25 431.34,174.24 431.56,174.23 431.78,174.22 432,174.2 432.22,174.19 432.44,174.18 432.66,174.17 432.88,174.16 433.1,174.14 433.32,174.13 433.54,174.12 433.76,174.11 433.98,174.09 434.2,174.08 434.42,174.07 434.64,174.05 434.86,174.04 435.08,174.03 435.3,174.01 435.52,174 435.74,173.99 435.96,173.97 436.18,173.96 436.4,173.94 436.62,173.93 436.84,173.91 437.06,173.9 437.28,173.88 437.5,173.87 437.72,173.85 437.94,173.83 438.16,173.82 438.38,173.8 438.6,173.79 438.82,173.77 439.04,173.75 439.26,173.74 439.48,173.72 439.7,173.7 439.92,173.69 440.14,173.67 440.36,173.65 440.58,173.64 440.8,173.62 441.02,173.6 441.24,173.58 441.46,173.57 441.68,173.55 441.9,173.53 442.12,173.51 442.34,173.5 442.56,173.48 442.78,173.46 443,173.44 443.22,173.42 443.44,173.41 443.66,173.39 443.88,173.37 444.1,173.35 444.32,173.33 444.54,173.31 444.76,173.29 444.98,173.28 445.2,173.26 445.42,173.24 445.64,173.22 445.86,173.2 446.08,173.18 446.3,173.16 446.52,173.14 446.74,173.12 446.96,173.1 447.18,173.08 447.4,173.06 447.62,173.05 447.84,173.03 448.06,173.01 448.28,172.99 448.5,172.97 448.72,172.95 448.94,172.93 449.16,172.91 449.38,172.89 449.6,172.87 449.82,172.85 450.04,172.83 450.26,172.81 450.48,172.79 450.7,172.77 450.92,172.75 451.14,172.73 451.36,172.71 451.58,172.69 451.8,172.67 452.02,172.65 452.24,172.63 452.46,172.61 452.68,172.59 452.9,172.57 453.12,172.55 453.34,172.54 453.56,172.52 453.78,172.5 454,172.48 454.22,172.46 454.44,172.44 454.66,172.42 454.88,172.4 455.1,172.38 455.32,172.36 455.54,172.34 455.76,172.32 455.98,172.3 456.2,172.28 456.42,172.26 456.64,172.24 456.86,172.23 457.08,172.21 457.3,172.19 457.52,172.17 457.74,172.15 457.96,172.13 458.18,172.11 458.4,172.09 458.62,172.08 458.84,172.06 459.06,172.04 459.28,172.02 459.5,172 459.72,171.98 459.94,171.96 460.16,171.95 460.38,171.93 460.6,171.91 460.82,171.89 461.04,171.87 461.26,171.86 461.48,171.84 461.7,171.82 461.92,171.8 462.14,171.79 462.36,171.77 462.58,171.75 462.8,171.73 463.02,171.72 463.24,171.7 463.46,171.68 463.68,171.67 463.9,171.65 464.12,171.63 464.34,171.62 464.56,171.6 464.78,171.58 465,171.57 465.22,171.55 465.44,171.54 465.66,171.52 465.88,171.5 466.1,171.49 466.32,171.47 466.54,171.46 466.76,171.44 466.98,171.43 467.2,171.41 467.42,171.4 467.64,171.38 467.86,171.37 468.08,171.35 468.3,171.34 468.52,171.32 468.74,171.31 468.96,171.29 469.18,171.28 469.4,171.27 469.62,171.25 469.84,171.24 470.06,171.22 470.28,171.21 470.5,171.2 470.72,171.18 470.94,171.17 471.16,171.16 471.38,171.14 471.6,171.13 471.82,171.12 472.04,171.11 472.26,171.09 472.48,171.08 472.7,171.07 472.92,171.06 473.14,171.05 473.36,171.03 473.58,171.02 473.8,171.01 474.02,171 474.24,170.99 474.46,170.98 474.68,170.97 474.9,170.96 475.12,170.95 475.34,170.93 475.56,170.92 475.78,170.91 476,170.9 476.22,170.89 476.44,170.88 476.66,170.87 476.88,170.86 477.1,170.86 477.32,170.85 477.54,170.84 477.76,170.83 477.98,170.82 478.2,170.81 478.42,170.8 478.64,170.79 478.86,170.79 479.08,170.78 479.3,170.77 479.52,170.76 479.74,170.75 479.96,170.75 480.18,170.74 480.4,170.73 480.62,170.72 480.84,170.72 481.06,170.71 481.28,170.7 481.5,170.7 481.72,170.69 481.94,170.68 482.16,170.68 482.38,170.67 482.6,170.67 482.82,170.66 483.04,170.65 483.26,170.65 483.48,170.64 483.7,170.64 483.92,170.63 484.14,170.63 484.36,170.62 484.58,170.62 484.8,170.61 485.02,170.61 485.24,170.61 485.46,170.6 485.68,170.6 485.9,170.59 486.12,170.59 486.34,170.59 486.56,170.58 486.78,170.58 487,170.58 487.22,170.57 487.44,170.57 487.66,170.57 487.88,170.57 488.1,170.56 488.32,170.56 488.54,170.56 488.76,170.56 488.98,170.55 489.2,170.55 489.42,170.55 489.64,170.55 489.86,170.55 490.08,170.55 490.3,170.55 490.52,170.55 490.74,170.54 490.96,170.54 491.18,170.54 491.4,170.54 491.62,170.54 491.84,170.54 492.06,170.54 492.28,170.54 492.5,170.54 492.72,170.54 492.94,170.54 493.16,170.54 493.38,170.54 493.6,170.54 493.82,170.55 494.04,170.55 494.26,170.55 494.48,170.55 494.7,170.55 494.92,170.55 495.14,170.55 495.36,170.55 495.58,170.56 495.8,170.56 496.02,170.56 496.24,170.56 496.46,170.56 496.68,170.57 496.9,170.57 497.12,170.57 497.34,170.57 497.56,170.58 497.78,170.58 498,170.58 498.22,170.59 498.44,170.59 498.66,170.59 498.88,170.6 499.1,170.6 499.32,170.6 499.54,170.61 499.76,170.61 499.98,170.61 500.2,170.62 500.42,170.62 500.64,170.63 500.86,170.63 501.08,170.64 501.3,170.64 501.52,170.64 501.74,170.65 501.96,170.65 502.18,170.66 502.4,170.66 502.62,170.67 502.84,170.67 503.06,170.68 503.28,170.68 503.5,170.69 503.72,170.69 503.94,170.7 504.16,170.71 504.38,170.71 504.6,170.72 504.82,170.72 505.04,170.73 505.26,170.73 505.48,170.74 505.7,170.75 505.92,170.75 506.14,170.76 506.36,170.77 506.58,170.77 506.8,170.78 507.02,170.79 507.24,170.79 507.46,170.8 507.68,170.81 507.9,170.81 508.12,170.82 508.34,170.83 508.56,170.83 508.78,170.84 509,170.85" fill="none" stroke="#3a3a3a" stroke-width="1"/>
<g fill="#000"><path d="M65.2 6.5h7.6l-3.8 6.6z"/><path d="M65.35 6.5h7.6l-3.8 6.6z"/><path d="M65.49 6.51h7.6l-3.8 6.6z"/><path d="M65.77 6.56h7.6l-3.8 6.6z"/><path d="M66.12 6.64h7.6l-3.8 6.6z"/><path d="M66.31 6.71h7.6l-3.8 6.6z"/><path d="M66.5 6.79h7.6l-3.8 6.6z"/><path d="M66.85 6.97h7.6l-3.8 6.6z"/><path d="M67.3 7.25h7.6l-3.8 6.6z"/><path d="M67.55 7.44h7.6l-3.8 6.6z"/><path d="M67.8 7.64h7.6l-3.8 6.6z"/><path d="M68.26 8.08h7.6l-3.8 6.6z"/><path d="M68.85 8.73h7.6l-3.8 6.6z"/><path d="M69.17 9.14h7.6l-3.8 6.6z"/><path d="M69.5 9.57h7.6l-3.8 6.6z"/><path d="M70.1 10.47h7.6l-3.8 6.6z"/><path d="M70.86 11.77h7.6l-3.8 6.6z"/><path d="M71.28 12.56h7.6l-3.8 6.6z"/><path d="M71.7 13.39h7.6l-3.8 6.6z"/><path d="M72.48 15.09h7.6l-3.8 6.6z"/><path d="M73.48 17.48h7.6l-3.8 6.6z"/><path d="M74.02 18.9h7.6l-3.8 6.6z"/><path d="M74.56 20.39h7.6l-3.8 6.6z"/><path d="M75.58 23.39h7.6l-3.8 6.6z"/><path d="M76.87 27.55h7.6l-3.8 6.6z"/><path d="M77.58 29.98h7.6l-3.8 6.6z"/><path d="M78.29 32.52h7.6l-3.8 6.6z"/><path d="M79.61 37.56h7.6l-3.8 6.6z"/><path d="M81.29 44.41h7.6l-3.8 6.6z"/><path d="M82.21 48.37h7.6l-3.8 6.6z"/><path d="M83.13 52.45h7.6l-3.8 6.6z"/><path d="M84.85 60.43h7.6l-3.8 6.6z"/><path d="M87.03 71.04h7.6l-3.8 6.6z"/><path d="M88.02 75.99h7.6l-3.8 6.6z"/><path d="M89.01 81.01h7.6l-3.8 6.6z"/><path d="M90.85 90.61h7.6l-3.8 6.6z"/><path d="M93.19 102.97h7.6l-3.8 6.6z"/><path d="M94.18 108.22h7.6l-3.8 6.6z"/><path d="M95.17 113.47h7.6l-3.8 6.6z"/><path d="M97.01 123.3h7.6l-3.8 6.6z"/><path d="M99.35 135.61h7.6l-3.8 6.6z"/><path d="M100.34 140.73h7.6l-3.8 6.6z"/><path d="M101.33 145.78h7.6l-3.8 6.6z"/><path d="M103.17 155.08h7.6l-3.8 6.6z"/><path d="M105.51 166.43h7.6l-3.8 6.6z"/><path d="M106.5 171.05h7.6l-3.8 6.6z"/><path d="M107.49 175.56h7.6l-3.8 6.6z"/><path d="M109.33 183.71h7.6l-3.8 6.6z"/><path d="M111.67 193.38h7.6l-3.8 6.6z"/><path d="M112.66 197.23h7.6l-3.8 6.6z"/><path d="M113.65 200.93h7.6l-3.8 6.6z"/><path d="M115.49 207.47h7.6l-3.8 6.6z"/><path d="M117.83 214.97h7.6l-3.8 6.6z"/><path d="M118.82 217.86h7.6l-3.8 6.6z"/><path d="M119.81 220.59h7.6l-3.8 6.6z"/><path d="M121.65 225.25h7.6l-3.8 6.6z"/><path d="M123.99 230.31h7.6l-3.8 6.6z"/><path d="M124.98 232.16h7.6l-3.8 6.6z"/><path d="M125.97 233.83h7.6l-3.8 6.6z"/><path d="M127.81 236.52h7.6l-3.8 6.6z"/><path d="M130.15 239.09h7.6l-3.8 6.6z"/><path d="M131.14 239.89h7.6l-3.8 6.6z"/><path d="M132.13 240.53h7.6l-3.8 6.6z"/><path d="M133.97 241.31h7.6l-3.8 6.6z"/><path d="M136.31 241.52h7.6l-3.8 6.6z"/><path d="M137.3 241.36h7.6l-3.8 6.6z"/><path d="M138.29 241.06h7.6l-3.8 6.6z"/><path d="M140.13 240.12h7.6l-3.8 6.6z"/><path d="M142.47 238.27h7.6l-3.8 6.6z"/><path d="M143.46 237.29h7.6l-3.8 6.6z"/><path d="M144.45 236.19h7.6l-3.8 6.6z"/><path d="M146.29 233.83h7.6l-3.8 6.6z"/><path d="M148.63 230.34h7.6l-3.8 6.6z"/><path d="M149.62 228.72h7.6l-3.8 6.6z"/><path d="M150.61 227.01h7.6l-3.8 6.6z"/><path d="M152.45 223.6h7.6l-3.8 6.6z"/><path d="M154.79 218.95h7.6l-3.8 6.6z"/><path d="M155.78 216.89h7.6l-3.8 6.6z"/><path d="M156.77 214.78h7.6l-3.8 6.6z"/><path d="M158.61 210.71h7.6l-3.8 6.6z"/><path d="M160.95 205.39h7.6l-3.8 6.6z"/><path d="M161.94 203.11h7.6l-3.8 6.6z"/><path d="M162.93 200.81h7.6l-3.8 6.6z"/><path d="M164.77 196.47h7.6l-3.8 6.6z"/><path d="M167.11 190.85h7.6l-3.8 6.6z"/><path d="M168.1 188.41h7.6l-3.8 6.6z"/><path d="M169.09 185.99h7.6l-3.8 6.6z"/><path d="M170.93 181.49h7.6l-3.8 6.6z"/><path d="M173.27 175.93h7.6l-3.8 6.6z"/><path d="M174.26 173.64h7.6l-3.8 6.6z"/><path d="M175.25 171.4h7.6l-3.8 6.6z"/><path d="M177.09 167.3h7.6l-3.8 6.6z"/><path d="M179.43 162.34h7.6l-3.8 6.6z"/><path d="M180.42 160.35h7.6l-3.8 6.6z"/><path d="M181.41 158.44h7.6l-3.8 6.6z"/><path d="M183.25 155.25h7.6l-3.8 6.6z"/><path d="M185.59 151.52h7.6l-3.8 6.6z"/><path d="M186.58 150.07h7.6l-3.8 6.6z"/><path d="M187.57 148.68h7.6l-3.8 6.6z"/><path d="M189.41 146.27h7.6l-3.8 6.6z"/><path d="M191.75 143.58h7.6l-3.8 6.6z"/><path d="M192.74 142.57h7.6l-3.8 6.6z"/><path d="M193.73 141.64h7.6l-3.8 6.6z"/><path d="M195.57 140.09h7.6l-3.8 6.6z"/><path d="M197.91 138.51h7.6l-3.8 6.6z"/><path d="M198.9 137.96h7.6l-3.8 6.6z"/><path d="M199.89 137.5h7.6l-3.8 6.6z"/><path d="M201.73 136.81h7.6l-3.8 6.6z"/><path d="M204.07 136.3h7.6l-3.8 6.6z"/><path d="M205.06 136.21h7.6l-3.8 6.6z"/><path d="M206.05 136.18h7.6l-3.8 6.6z"/><path d="M207.89 136.29h7.6l-3.8 6.6z"/><path d="M210.23 136.76h7.6l-3.8 6.6z"/><path d="M211.22 137.05h7.6l-3.8 6.6z"/><path d="M212.21 137.14h7.6l-3.8 6.6z"/><path d="M214.05 137.46h7.6l-3.8 6.6z"/><path d="M216.39 138.11h7.6l-3.8 6.6z"/><path d="M217.38 138.47h7.6l-3.8 6.6z"/><path d="M218.37 138.87h7.6l-3.8 6.6z"/><path d="M220.21 139.72h7.6l-3.8 6.6z"/><path d="M222.55 141.02h7.6l-3.8 6.6z"/><path d="M223.54 141.63h7.6l-3.8 6.6z"/><path d="M224.53 142.27h7.6l-3.8 6.6z"/><path d="M226.37 143.54h7.6l-3.8 6.6z"/><path d="M228.71 145.25h7.6l-3.8 6.6z"/><path d="M229.7 146h7.6l-3.8 6.6z"/><path d="M230.69 146.76h7.6l-3.8 6.6z"/><path d="M232.53 148.34h7.6l-3.8 6.6z"/><path d="M234.87 151.06h7.6l-3.8 6.6z"/><path d="M235.86 152.2h7.6l-3.8 6.6z"/><path d="M236.85 155.21h7.6l-3.8 6.6z"/><path d="M238.69 157.93h7.6l-3.8 6.6z"/><path d="M241.03 159.93h7.6l-3.8 6.6z"/><path d="M242.02 160.76h7.6l-3.8 6.6z"/><path d="M243.01 161.57h7.6l-3.8 6.6z"/><path d="M244.85 163.06h7.6l-3.8 6.6z"/><path d="M247.19 165.02h7.6l-3.8 6.6z"/><path d="M248.18 165.91h7.6l-3.8 6.6z"/><path d="M249.17 166.77h7.6l-3.8 6.6z"/><path d="M251.01 168.33h7.6l-3.8 6.6z"/><path d="M253.35 170.18h7.6l-3.8 6.6z"/><path d="M254.34 170.91h7.6l-3.8 6.6z"/><path d="M255.33 171.61h7.6l-3.8 6.6z"/><path d="M257.17 172.85h7.6l-3.8 6.6z"/><path d="M259.51 174.5h7.6l-3.8 6.6z"/><path d="M260.5 175.22h7.6l-3.8 6.6z"/><path d="M261.49 175.9h7.6l-3.8 6.6z"/><path d="M263.33 177.1h7.6l-3.8 6.6z"/><path d="M265.67 178.45h7.6l-3.8 6.6z"/><path d="M266.66 178.97h7.6l-3.8 6.6z"/><path d="M267.65 179.45h7.6l-3.8 6.6z"/><path d="M269.49 180.26h7.6l-3.8 6.6z"/><path d="M271.83 181.04h7.6l-3.8 6.6z"/><path d="M272.82 181.21h7.6l-3.8 6.6z"/><path d="M273.81 181.36h7.6l-3.8 6.6z"/><path d="M275.65 181.55h7.6l-3.8 6.6z"/><path d="M277.99 181.64h7.6l-3.8 6.6z"/><path d="M278.98 181.63h7.6l-3.8 6.6z"/><path d="M279.97 181.59h7.6l-3.8 6.6z"/><path d="M281.81 181.45h7.6l-3.8 6.6z"/><path d="M284.15 181.15h7.6l-3.8 6.6z"/><path d="M285.14 180.98h7.6l-3.8 6.6z"/><path d="M286.13 180.79h7.6l-3.8 6.6z"/><path d="M287.97 180.38h7.6l-3.8 6.6z"/><path d="M290.31 179.77h7.6l-3.8 6.6z"/><path d="M291.3 179.48h7.6l-3.8 6.6z"/><path d="M292.29 179.18h7.6l-3.8 6.6z"/><path d="M294.13 178.57h7.6l-3.8 6.6z"/><path d="M296.47 177.78h7.6l-3.8 6.6z"/><path d="M297.46 177.57h7.6l-3.8 6.6z"/><path d="M298.45 177.35h7.6l-3.8 6.6z"/><path d="M300.29 176.92h7.6l-3.8 6.6z"/><path d="M302.63 175.82h7.6l-3.8 6.6z"/><path d="M303.62 174.8h7.6l-3.8 6.6z"/><path d="M304.61 174.34h7.6l-3.8 6.6z"/><path d="M306.45 173.48h7.6l-3.8 6.6z"/><path d="M308.79 172.39h7.6l-3.8 6.6z"/><path d="M309.78 171.93h7.6l-3.8 6.6z"/><path d="M310.77 171.48h7.6l-3.8 6.6z"/><path d="M312.61 170.64h7.6l-3.8 6.6z"/><path d="M314.95 169.61h7.6l-3.8 6.6z"/><path d="M315.94 169.18h7.6l-3.8 6.6z"/><path d="M316.93 168.77h7.6l-3.8 6.6z"/><path d="M318.77 168.01h7.6l-3.8 6.6z"/><path d="M321.11 167.1h7.6l-3.8 6.6z"/><path d="M322.1 166.74h7.6l-3.8 6.6z"/><path d="M323.09 166.38h7.6l-3.8 6.6z"/><path d="M324.93 165.75h7.6l-3.8 6.6z"/><path d="M327.27 165.02h7.6l-3.8 6.6z"/><path d="M328.26 164.74h7.6l-3.8 6.6z"/><path d="M329.25 164.47h7.6l-3.8 6.6z"/><path d="M331.09 164h7.6l-3.8 6.6z"/><path d="M333.43 163.48h7.6l-3.8 6.6z"/><path d="M334.42 163.29h7.6l-3.8 6.6z"/><path d="M335.41 163.11h7.6l-3.8 6.6z"/><path d="M337.25 162.81h7.6l-3.8 6.6z"/><path d="M339.59 162.5h7.6l-3.8 6.6z"/><path d="M340.58 162.4h7.6l-3.8 6.6z"/><path d="M341.57 162.31h7.6l-3.8 6.6z"/><path d="M343.41 162.18h7.6l-3.8 6.6z"/><path d="M345.75 162.08h7.6l-3.8 6.6z"/><path d="M346.74 162.07h7.6l-3.8 6.6z"/><path d="M347.73 162.06h7.6l-3.8 6.6z"/><path d="M349.57 162.09h7.6l-3.8 6.6z"/><path d="M351.91 162.18h7.6l-3.8 6.6z"/><path d="M352.9 162.23h7.6l-3.8 6.6z"/><path d="M353.89 162.3h7.6l-3.8 6.6z"/><path d="M355.73 162.46h7.6l-3.8 6.6z"/><path d="M358.07 162.7h7.6l-3.8 6.6z"/><path d="M359.06 162.82h7.6l-3.8 6.6z"/><path d="M360.05 162.95h7.6l-3.8 6.6z"/><path d="M361.89 163.21h7.6l-3.8 6.6z"/><path d="M364.23 163.57h7.6l-3.8 6.6z"/><path d="M365.22 163.73h7.6l-3.8 6.6z"/><path d="M366.21 163.9h7.6l-3.8 6.6z"/><path d="M368.05 164.22h7.6l-3.8 6.6z"/><path d="M370.39 164.66h7.6l-3.8 6.6z"/><path d="M371.38 164.84h7.6l-3.8 6.6z"/><path d="M372.37 165.03h7.6l-3.8 6.6z"/><path d="M374.21 165.4h7.6l-3.8 6.6z"/><path d="M376.55 165.86h7.6l-3.8 6.6z"/><path d="M377.54 166.05h7.6l-3.8 6.6z"/><path d="M378.53 166.25h7.6l-3.8 6.6z"/><path d="M380.37 166.61h7.6l-3.8 6.6z"/><path d="M382.71 167.07h7.6l-3.8 6.6z"/><path d="M383.7 167.25h7.6l-3.8 6.6z"/><path d="M384.69 167.44h7.6l-3.8 6.6z"/><path d="M386.53 167.78h7.6l-3.8 6.6z"/><path d="M388.87 168.19h7.6l-3.8 6.6z"/><path d="M389.86 168.35h7.6l-3.8 6.6z"/><path d="M390.85 168.51h7.6l-3.8 6.6z"/><path d="M392.69 168.8h7.6l-3.8 6.6z"/><path d="M395.03 169.15h7.6l-3.8 6.6z"/><path d="M396.02 169.28h7.6l-3.8 6.6z"/><path d="M397.01 169.47h7.6l-3.8 6.6z"/><path d="M398.85 169.85h7.6l-3.8 6.6z"/><path d="M401.19 170.29h7.6l-3.8 6.6z"/><path d="M402.18 170.47h7.6l-3.8 6.6z"/><path d="M403.17 170.64h7.6l-3.8 6.6z"/><path d="M405.01 170.94h7.6l-3.8 6.6z"/><path d="M407.35 171.28h7.6l-3.8 6.6z"/><path d="M408.34 171.42h7.6l-3.8 6.6z"/><path d="M409.33 171.55h7.6l-3.8 6.6z"/><path d="M411.17 171.78h7.6l-3.8 6.6z"/><path d="M413.51 172.03h7.6l-3.8 6.6z"/><path d="M414.5 172.13h7.6l-3.8 6.6z"/><path d="M415.49 172.22h7.6l-3.8 6.6z"/><path d="M417.33 172.29h7.6l-3.8 6.6z"/><path d="M419.67 172.28h7.6l-3.8 6.6z"/><path d="M420.66 172.26h7.6l-3.8 6.6z"/><path d="M421.65 172.25h7.6l-3.8 6.6z"/><path d="M423.49 172.2h7.6l-3.8 6.6z"/><path d="M425.83 172.11h7.6l-3.8 6.6z"/><path d="M426.82 172.07h7.6l-3.8 6.6z"/><path d="M427.81 172.02h7.6l-3.8 6.6z"/><path d="M429.65 171.92h7.6l-3.8 6.6z"/><path d="M431.99 171.78h7.6l-3.8 6.6z"/><path d="M432.98 171.72h7.6l-3.8 6.6z"/><path d="M433.97 171.65h7.6l-3.8 6.6z"/><path d="M435.81 171.51h7.6l-3.8 6.6z"/><path d="M438.15 171.33h7.6l-3.8 6.6z"/><path d="M439.14 171.25h7.6l-3.8 6.6z"/><path d="M440.13 171.16h7.6l-3.8 6.6z"/><path d="M441.97 171.01h7.6l-3.8 6.6z"/><path d="M444.31 170.8h7.6l-3.8 6.6z"/><path d="M445.3 170.71h7.6l-3.8 6.6z"/><path d="M446.29 170.63h7.6l-3.8 6.6z"/><path d="M448.13 170.46h7.6l-3.8 6.6z"/><path d="M450.47 170.25h7.6l-3.8 6.6z"/><path d="M451.46 170.17h7.6l-3.8 6.6z"/><path d="M452.45 170.08h7.6l-3.8 6.6z"/><path d="M454.29 169.92h7.6l-3.8 6.6z"/><path d="M456.63 169.72h7.6l-3.8 6.6z"/><path d="M457.62 169.64h7.6l-3.8 6.6z"/><path d="M458.61 169.57h7.6l-3.8 6.6z"/><path d="M460.45 169.42h7.6l-3.8 6.6z"/><path d="M462.79 169.25h7.6l-3.8 6.6z"/><path d="M463.78 169.19h7.6l-3.8 6.6z"/><path d="M464.77 169.12h7.6l-3.8 6.6z"/><path d="M466.61 169h7.6l-3.8 6.6z"/><path d="M468.95 168.87h7.6l-3.8 6.6z"/><path d="M469.94 168.81h7.6l-3.8 6.6z"/><path d="M470.93 168.76h7.6l-3.8 6.6z"/><path d="M472.77 168.68h7.6l-3.8 6.6z"/><path d="M475.11 168.58h7.6l-3.8 6.6z"/><path d="M476.1 168.55h7.6l-3.8 6.6z"/><path d="M477.09 168.52h7.6l-3.8 6.6z"/><path d="M478.93 168.46h7.6l-3.8 6.6z"/><path d="M481.27 168.41h7.6l-3.8 6.6z"/><path d="M482.26 168.39h7.6l-3.8 6.6z"/><path d="M483.25 168.38h7.6l-3.8 6.6z"/><path d="M485.09 168.36h7.6l-3.8 6.6z"/><path d="M487.43 168.34h7.6l-3.8 6.6z"/><path d="M488.42 168.34h7.6l-3.8 6.6z"/><path d="M489.41 168.34h7.6l-3.8 6.6z"/><path d="M491.25 168.35h7.6l-3.8 6.6z"/><path d="M493.59 168.38h7.6l-3.8 6.6z"/><path d="M494.58 168.39h7.6l-3.8 6.6z"/><path d="M495.57 168.4h7.6l-3.8 6.6z"/><path d="M497.41 168.44h7.6l-3.8 6.6z"/><path d="M499.75 168.49h7.6l-3.8 6.6z"/><path d="M500.74 168.52h7.6l-3.8 6.6z"/><path d="M501.73 168.54h7.6l-3.8 6.6z"/><path d="M503.57 168.6h7.6l-3.8 6.6z"/></g>
</g>
<path d="M69.0 8.7H509.0V334.8H69.0Z" fill="none" stroke="#111" stroke-width="1.6"/>
<line x1="62" y1="334.8" x2="69.0" y2="334.8" stroke="#111" stroke-width="1.6"/>
<line x1="62" y1="253.28" x2="69.0" y2="253.28" stroke="#111" stroke-width="1.6"/>
<line x1="62" y1="171.75" x2="69.0" y2="171.75" stroke="#111" stroke-width="1.6"/>
<line x1="62" y1="90.23" x2="69.0" y2="90.23" stroke="#111" stroke-width="1.6"/>
<line x1="62" y1="8.7" x2="69.0" y2="8.7" stroke="#111" stroke-width="1.6"/>
<line x1="65.5" y1="294.04" x2="69.0" y2="294.04" stroke="#111" stroke-width="1.6"/>
<line x1="65.5" y1="212.51" x2="69.0" y2="212.51" stroke="#111" stroke-width="1.6"/>
<line x1="65.5" y1="130.99" x2="69.0" y2="130.99" stroke="#111" stroke-width="1.6"/>
<line x1="65.5" y1="49.46" x2="69.0" y2="49.46" stroke="#111" stroke-width="1.6"/>
<line x1="69" y1="334.8" x2="69" y2="341.5" stroke="#111" stroke-width="1.6"/>
<line x1="289" y1="334.8" x2="289" y2="341.5" stroke="#111" stroke-width="1.6"/>
<line x1="509" y1="334.8" x2="509" y2="341.5" stroke="#111" stroke-width="1.6"/>
<line x1="179" y1="334.8" x2="179" y2="338.5" stroke="#111" stroke-width="1.6"/>
<line x1="399" y1="334.8" x2="399" y2="338.5" stroke="#111" stroke-width="1.6"/>
<text x="58.2" y="14.6" text-anchor="end">10</text>
<text x="58.2" y="96.13" text-anchor="end">5</text>
<text x="58.2" y="177.65" text-anchor="end">0</text>
<text x="58.2" y="259.18" text-anchor="end">-5</text>
<text x="58.2" y="340.7" text-anchor="end">-10</text>
<text x="69.2" y="361.5" text-anchor="middle">0</text>
<text x="289.2" y="361.5" text-anchor="middle">5</text>
<text x="509.2" y="361.5" text-anchor="middle">10</text>
<text x="289.2" y="395.2" text-anchor="middle" font-size="21.2">t (dimensionless units)</text>
<text transform="translate(14.8 184.7) rotate(-90)" text-anchor="middle" font-size="21.2">Mean-value Fourier mode</text>
</svg>
</body></html>
